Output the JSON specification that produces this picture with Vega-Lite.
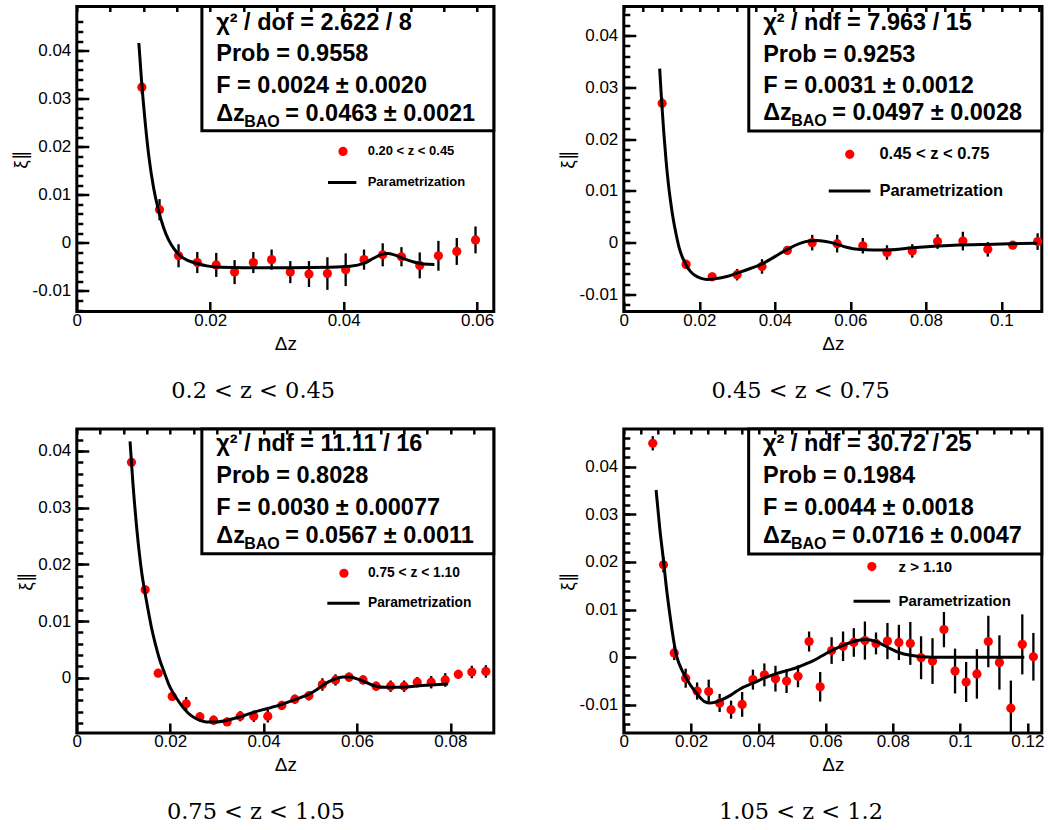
{
"$schema": "https://vega.github.io/schema/vega-lite/v6.json",
"background": "white",
"padding": {"left": 8.8, "top": 3.5, "right": 2, "bottom": 2},
"columns": 2,
"spacing": {"row": 22.5, "column": 59},
"datasets": {
"d1": [
{"x":0.00975,"y":0.0324,"err":0.0014},{"x":0.0124,"y":0.0069,"err":0.0022},{"x":0.01525,"y":-0.0027,"err":0.0024},{"x":0.01806,"y":-0.0041,"err":0.0022},{"x":0.0209,"y":-0.0046,"err":0.0025},{"x":0.02365,"y":-0.0061,"err":0.0025},{"x":0.02646,"y":-0.0041,"err":0.0022},{"x":0.0292,"y":-0.0035,"err":0.0021},{"x":0.032,"y":-0.0061,"err":0.0023},{"x":0.0348,"y":-0.0065,"err":0.0027},{"x":0.03756,"y":-0.0064,"err":0.0034},{"x":0.0403,"y":-0.0056,"err":0.0034},{"x":0.04305,"y":-0.0035,"err":0.0021},{"x":0.04585,"y":-0.0025,"err":0.0024},{"x":0.04866,"y":-0.0029,"err":0.002},{"x":0.0514,"y":-0.0047,"err":0.0027},{"x":0.0542,"y":-0.0027,"err":0.0031},{"x":0.05695,"y":-0.0018,"err":0.0028},{"x":0.05976,"y":0.0006,"err":0.0028}],
"f1": [
{"x":0.0093,"y":0.0416},{"x":0.0097,"y":0.0338},{"x":0.0102,"y":0.0258},{"x":0.0108,"y":0.018},{"x":0.0115,"y":0.0115},{"x":0.0122,"y":0.007},{"x":0.013,"y":0.0032},{"x":0.0138,"y":0.0005},{"x":0.0146,"y":-0.0013},{"x":0.0155,"y":-0.0027},{"x":0.0167,"y":-0.0037},{"x":0.018,"y":-0.0043},{"x":0.0195,"y":-0.0048},{"x":0.0215,"y":-0.0051},{"x":0.025,"y":-0.0052},{"x":0.032,"y":-0.0052},{"x":0.038,"y":-0.0051},{"x":0.041,"y":-0.0049},{"x":0.043,"y":-0.0043},{"x":0.0445,"y":-0.0032},{"x":0.0457,"y":-0.0024},{"x":0.0466,"y":-0.0022},{"x":0.0476,"y":-0.0025},{"x":0.049,"y":-0.0033},{"x":0.0505,"y":-0.004},{"x":0.052,"y":-0.0044},{"x":0.0536,"y":-0.0045}],
"d2": [
{"x":0.01015,"y":0.0269,"err":0.0011},{"x":0.0165,"y":-0.0042,"err":0.0009},{"x":0.0234,"y":-0.0066,"err":0.0008},{"x":0.03,"y":-0.0062,"err":0.0011},{"x":0.0366,"y":-0.0046,"err":0.0014},{"x":0.0433,"y":-0.0015,"err":0.0008},{"x":0.0499,"y":0.0,"err":0.0015},{"x":0.0565,"y":-0.0002,"err":0.0017},{"x":0.0633,"y":-0.0006,"err":0.0015},{"x":0.0697,"y":-0.0019,"err":0.0014},{"x":0.0764,"y":-0.0016,"err":0.0013},{"x":0.0831,"y":0.0002,"err":0.0014},{"x":0.0898,"y":0.0003,"err":0.0018},{"x":0.0964,"y":-0.0013,"err":0.0014},{"x":0.103,"y":-0.0005,"err":0.0006},{"x":0.1096,"y":0.0002,"err":0.0016}],
"f2": [
{"x":0.0095,"y":0.0336},{"x":0.01,"y":0.0275},{"x":0.0106,"y":0.0212},{"x":0.0112,"y":0.0158},{"x":0.0118,"y":0.0114},{"x":0.0124,"y":0.0079},{"x":0.0131,"y":0.0045},{"x":0.0138,"y":0.0018},{"x":0.0146,"y":-0.0008},{"x":0.0155,"y":-0.0028},{"x":0.0165,"y":-0.0043},{"x":0.0177,"y":-0.0056},{"x":0.019,"y":-0.0064},{"x":0.0205,"y":-0.0069},{"x":0.022,"y":-0.0071},{"x":0.024,"y":-0.007},{"x":0.027,"y":-0.0066},{"x":0.03,"y":-0.0059},{"x":0.0335,"y":-0.005},{"x":0.0366,"y":-0.0041},{"x":0.04,"y":-0.0027},{"x":0.0433,"y":-0.0013},{"x":0.0465,"y":-0.0002},{"x":0.049,"y":0.0003},{"x":0.051,"y":0.0004},{"x":0.0535,"y":0.0002},{"x":0.056,"y":-0.0002},{"x":0.059,"y":-0.0009},{"x":0.062,"y":-0.0013},{"x":0.066,"y":-0.0014},{"x":0.07,"y":-0.0014},{"x":0.0764,"y":-0.001},{"x":0.0874,"y":-0.0005},{"x":0.098,"y":-0.0003},{"x":0.1095,"y":-0.0001}],
"d3": [
{"x":0.01171,"y":0.038,"err":0.0008},{"x":0.01464,"y":0.0155,"err":0.0007},{"x":0.01743,"y":0.0008,"err":0.0007},{"x":0.02043,"y":-0.0033,"err":0.0008},{"x":0.02343,"y":-0.0046,"err":0.0012},{"x":0.02636,"y":-0.0069,"err":0.0008},{"x":0.02929,"y":-0.0075,"err":0.0008},{"x":0.0322,"y":-0.0078,"err":0.0007},{"x":0.035,"y":-0.0068,"err":0.0009},{"x":0.0379,"y":-0.0068,"err":0.001},{"x":0.0409,"y":-0.0068,"err":0.0011},{"x":0.0439,"y":-0.0049,"err":0.0008},{"x":0.0467,"y":-0.0038,"err":0.0008},{"x":0.0497,"y":-0.0032,"err":0.0008},{"x":0.0526,"y":-0.0012,"err":0.0011},{"x":0.0554,"y":-0.0004,"err":0.001},{"x":0.0583,"y":0.0001,"err":0.0008},{"x":0.0613,"y":-0.0004,"err":0.0008},{"x":0.0641,"y":-0.0015,"err":0.0008},{"x":0.0672,"y":-0.0015,"err":0.001},{"x":0.0701,"y":-0.0015,"err":0.001},{"x":0.0729,"y":-0.0008,"err":0.0009},{"x":0.0759,"y":-0.0008,"err":0.0011},{"x":0.0789,"y":-0.0004,"err":0.0012},{"x":0.0817,"y":0.0006,"err":0.0008},{"x":0.0846,"y":0.001,"err":0.0011},{"x":0.0876,"y":0.0011,"err":0.0011}],
"f3": [
{"x":0.0114,"y":0.0417},{"x":0.012,"y":0.0345},{"x":0.0127,"y":0.0276},{"x":0.0134,"y":0.0219},{"x":0.014,"y":0.018},{"x":0.0146,"y":0.015},{"x":0.0153,"y":0.0118},{"x":0.016,"y":0.0088},{"x":0.0168,"y":0.006},{"x":0.0177,"y":0.0033},{"x":0.0188,"y":0.0008},{"x":0.0196,"y":-0.001},{"x":0.0205,"y":-0.0025},{"x":0.0215,"y":-0.0038},{"x":0.023,"y":-0.0055},{"x":0.0245,"y":-0.0067},{"x":0.026,"y":-0.0074},{"x":0.0277,"y":-0.0078},{"x":0.03,"y":-0.0078},{"x":0.0322,"y":-0.0075},{"x":0.035,"y":-0.0069},{"x":0.0379,"y":-0.0061},{"x":0.041,"y":-0.0054},{"x":0.0439,"y":-0.0047},{"x":0.047,"y":-0.0038},{"x":0.0497,"y":-0.0029},{"x":0.0512,"y":-0.0022},{"x":0.0526,"y":-0.0014},{"x":0.054,"y":-0.0007},{"x":0.0554,"y":-0.0002},{"x":0.057,"y":0.0001},{"x":0.0584,"y":0.0001},{"x":0.06,"y":-0.0002},{"x":0.0613,"y":-0.0006},{"x":0.0627,"y":-0.0011},{"x":0.0641,"y":-0.0015},{"x":0.066,"y":-0.0017},{"x":0.0691,"y":-0.0017},{"x":0.074,"y":-0.0014},{"x":0.0795,"y":-0.0011}],
"d4": [
{"x":0.00861,"y":0.0449,"err":0.0015},{"x":0.0118,"y":0.0194,"err":0.0016},{"x":0.015,"y":0.0009,"err":0.0015},{"x":0.0184,"y":-0.0044,"err":0.002},{"x":0.0218,"y":-0.0071,"err":0.0018},{"x":0.02525,"y":-0.0072,"err":0.0025},{"x":0.0285,"y":-0.0096,"err":0.0019},{"x":0.0319,"y":-0.011,"err":0.0019},{"x":0.0352,"y":-0.0099,"err":0.0026},{"x":0.0384,"y":-0.0047,"err":0.0021},{"x":0.0418,"y":-0.0037,"err":0.0024},{"x":0.0451,"y":-0.0045,"err":0.0027},{"x":0.0484,"y":-0.005,"err":0.0025},{"x":0.0518,"y":-0.004,"err":0.0023},{"x":0.0551,"y":0.0033,"err":0.0021},{"x":0.0584,"y":-0.0062,"err":0.0031},{"x":0.0618,"y":0.0014,"err":0.0028},{"x":0.0652,"y":0.0023,"err":0.0031},{"x":0.0684,"y":0.0031,"err":0.003},{"x":0.0717,"y":0.0035,"err":0.004},{"x":0.075,"y":0.0029,"err":0.0023},{"x":0.0784,"y":0.0034,"err":0.0038},{"x":0.0818,"y":0.0031,"err":0.0037},{"x":0.0852,"y":0.0029,"err":0.0045},{"x":0.0884,"y":-0.0001,"err":0.0045},{"x":0.0918,"y":-0.0008,"err":0.0048},{"x":0.0952,"y":0.0058,"err":0.0037},{"x":0.0985,"y":-0.0029,"err":0.0047},{"x":0.1018,"y":-0.0052,"err":0.0042},{"x":0.105,"y":-0.0035,"err":0.0052},{"x":0.1084,"y":0.0033,"err":0.0054},{"x":0.1117,"y":-0.0011,"err":0.0057},{"x":0.1151,"y":-0.0107,"err":0.0058},{"x":0.1185,"y":0.0027,"err":0.0063},{"x":0.1218,"y":0.0001,"err":0.005}],
"f4": [
{"x":0.0096,"y":0.0351},{"x":0.0107,"y":0.027},{"x":0.0118,"y":0.0203},{"x":0.0126,"y":0.015},{"x":0.0134,"y":0.0105},{"x":0.0142,"y":0.0064},{"x":0.015,"y":0.0028},{"x":0.0158,"y":0.0},{"x":0.0166,"y":-0.0016},{"x":0.0175,"y":-0.003},{"x":0.0184,"y":-0.0042},{"x":0.0195,"y":-0.0055},{"x":0.0206,"y":-0.0066},{"x":0.0218,"y":-0.0077},{"x":0.023,"y":-0.0087},{"x":0.024,"y":-0.0093},{"x":0.0257,"y":-0.0096},{"x":0.0285,"y":-0.0091},{"x":0.0317,"y":-0.008},{"x":0.0347,"y":-0.0066},{"x":0.0386,"y":-0.0054},{"x":0.042,"y":-0.0043},{"x":0.0451,"y":-0.0035},{"x":0.0485,"y":-0.0028},{"x":0.0518,"y":-0.0021},{"x":0.0545,"y":-0.0013},{"x":0.0564,"y":-0.0007},{"x":0.059,"y":0.0003},{"x":0.0618,"y":0.0014},{"x":0.0652,"y":0.0025},{"x":0.0684,"y":0.0033},{"x":0.0717,"y":0.0037},{"x":0.075,"y":0.0033},{"x":0.0784,"y":0.0021},{"x":0.0818,"y":0.001},{"x":0.0852,"y":0.0004},{"x":0.0884,"y":0.0001},{"x":0.092,"y":0.0},{"x":0.1191,"y":0.0}]
},
"concat": [
{
"width": 417, "height": 305,
"title": {"text": "0.2 < z < 0.45", "orient": "bottom", "anchor": "middle", "frame": "bounds", "font": "DejaVu Serif", "fontSize": 22.5, "fontWeight": "normal", "color": "black", "offset": 26.5},
"layer": [
{"data": {"name": "d1"}, "mark": {"type": "errorbar", "ticks": false, "rule": {"stroke": "black", "strokeWidth": 2.3}},
 "encoding": {
  "x": {"field": "x", "type": "quantitative", "scale": {"domain": [0, 0.0625], "nice": false, "zero": false}, "axis": {"title": "Δz", "titlePadding": 6, "labelPadding": 10.5, "labelOverlap": false, "labelFlush": false, "zindex": 1, "tickSize": -10, "values": [0,0.005,0.01,0.015,0.02,0.025,0.03,0.035,0.04,0.045,0.05,0.055,0.06], "labelExpr": "abs(datum.value*50-round(datum.value*50))<1e-6 ? replace(format(datum.value,'~g'),'\u2212','-') : ''", "tickOpacity": {"condition": {"test": "abs(datum.value*50-round(datum.value*50))<1e-6", "value": 1}, "value": 0}, "grid": true, "gridDash": [5, 2000], "gridColor": "black", "gridWidth": 2.5, "gridOpacity": 1}},
  "y": {"field": "y", "type": "quantitative", "scale": {"domain": [-0.0143, 0.0492], "nice": false, "zero": false}, "axis": {"title": "ξ∥", "titlePadding": 2, "labelPadding": 18, "labelOverlap": false, "labelFlush": false, "zindex": 1, "tickSize": -12, "values": [-0.014,-0.012,-0.01,-0.008,-0.006,-0.004,-0.002,0,0.002,0.004,0.006,0.008,0.01,0.012,0.014,0.016,0.018,0.02,0.022,0.024,0.026,0.028,0.03,0.032,0.034,0.036,0.038,0.04,0.042,0.044,0.046], "labelExpr": "abs(datum.value*100-round(datum.value*100))<1e-6 ? replace(format(datum.value,'~g'),'\u2212','-') : ''", "tickOpacity": {"condition": {"test": "abs(datum.value*100-round(datum.value*100))<1e-6", "value": 1}, "value": 0}, "grid": true, "gridDash": [6, 2000], "gridColor": "black", "gridWidth": 2.5, "gridOpacity": 1}},
  "yError": {"field": "err"}}},
{"data": {"name": "d1"}, "mark": {"type": "point", "filled": true, "fill": "#ff0000", "size": 85, "opacity": 1, "strokeWidth": 0},
 "encoding": {
  "x": {"field": "x", "type": "quantitative", "scale": {"domain": [0, 0.0625], "nice": false, "zero": false}, "axis": {"title": "Δz", "titlePadding": 6, "labelPadding": 10.5, "labelOverlap": false, "labelFlush": false, "zindex": 1, "tickSize": -10, "values": [0,0.005,0.01,0.015,0.02,0.025,0.03,0.035,0.04,0.045,0.05,0.055,0.06], "labelExpr": "abs(datum.value*50-round(datum.value*50))<1e-6 ? replace(format(datum.value,'~g'),'\u2212','-') : ''", "tickOpacity": {"condition": {"test": "abs(datum.value*50-round(datum.value*50))<1e-6", "value": 1}, "value": 0}, "grid": true, "gridDash": [5, 2000], "gridColor": "black", "gridWidth": 2.5, "gridOpacity": 1}},
  "y": {"field": "y", "type": "quantitative", "scale": {"domain": [-0.0143, 0.0492], "nice": false, "zero": false}, "axis": {"title": "ξ∥", "titlePadding": 2, "labelPadding": 18, "labelOverlap": false, "labelFlush": false, "zindex": 1, "tickSize": -12, "values": [-0.014,-0.012,-0.01,-0.008,-0.006,-0.004,-0.002,0,0.002,0.004,0.006,0.008,0.01,0.012,0.014,0.016,0.018,0.02,0.022,0.024,0.026,0.028,0.03,0.032,0.034,0.036,0.038,0.04,0.042,0.044,0.046], "labelExpr": "abs(datum.value*100-round(datum.value*100))<1e-6 ? replace(format(datum.value,'~g'),'\u2212','-') : ''", "tickOpacity": {"condition": {"test": "abs(datum.value*100-round(datum.value*100))<1e-6", "value": 1}, "value": 0}, "grid": true, "gridDash": [6, 2000], "gridColor": "black", "gridWidth": 2.5, "gridOpacity": 1}}}},
{"data": {"name": "f1"}, "mark": {"type": "line", "color": "black", "strokeWidth": 3, "interpolate": "monotone"},
 "encoding": {
  "x": {"field": "x", "type": "quantitative", "scale": {"domain": [0, 0.0625], "nice": false, "zero": false}, "axis": {"title": "Δz", "titlePadding": 6, "labelPadding": 10.5, "labelOverlap": false, "labelFlush": false, "zindex": 1, "tickSize": -10, "values": [0,0.005,0.01,0.015,0.02,0.025,0.03,0.035,0.04,0.045,0.05,0.055,0.06], "labelExpr": "abs(datum.value*50-round(datum.value*50))<1e-6 ? replace(format(datum.value,'~g'),'\u2212','-') : ''", "tickOpacity": {"condition": {"test": "abs(datum.value*50-round(datum.value*50))<1e-6", "value": 1}, "value": 0}, "grid": true, "gridDash": [5, 2000], "gridColor": "black", "gridWidth": 2.5, "gridOpacity": 1}},
  "y": {"field": "y", "type": "quantitative", "scale": {"domain": [-0.0143, 0.0492], "nice": false, "zero": false}, "axis": {"title": "ξ∥", "titlePadding": 2, "labelPadding": 18, "labelOverlap": false, "labelFlush": false, "zindex": 1, "tickSize": -12, "values": [-0.014,-0.012,-0.01,-0.008,-0.006,-0.004,-0.002,0,0.002,0.004,0.006,0.008,0.01,0.012,0.014,0.016,0.018,0.02,0.022,0.024,0.026,0.028,0.03,0.032,0.034,0.036,0.038,0.04,0.042,0.044,0.046], "labelExpr": "abs(datum.value*100-round(datum.value*100))<1e-6 ? replace(format(datum.value,'~g'),'\u2212','-') : ''", "tickOpacity": {"condition": {"test": "abs(datum.value*100-round(datum.value*100))<1e-6", "value": 1}, "value": 0}, "grid": true, "gridDash": [6, 2000], "gridColor": "black", "gridWidth": 2.5, "gridOpacity": 1}}}},
{"data": {"values": [{}]}, "mark": {"type": "point", "filled": true, "fill": "#ff0000", "size": 85, "opacity": 1, "strokeWidth": 0},
 "encoding": {
  "x": {"datum": 0.0399, "type": "quantitative", "scale": {"domain": [0, 0.0625], "nice": false, "zero": false}, "axis": {"title": "Δz", "titlePadding": 6, "labelPadding": 10.5, "labelOverlap": false, "labelFlush": false, "zindex": 1, "tickSize": -10, "values": [0,0.005,0.01,0.015,0.02,0.025,0.03,0.035,0.04,0.045,0.05,0.055,0.06], "labelExpr": "abs(datum.value*50-round(datum.value*50))<1e-6 ? replace(format(datum.value,'~g'),'\u2212','-') : ''", "tickOpacity": {"condition": {"test": "abs(datum.value*50-round(datum.value*50))<1e-6", "value": 1}, "value": 0}, "grid": true, "gridDash": [5, 2000], "gridColor": "black", "gridWidth": 2.5, "gridOpacity": 1}},
  "y": {"datum": 0.01902, "type": "quantitative", "scale": {"domain": [-0.0143, 0.0492], "nice": false, "zero": false}, "axis": {"title": "ξ∥", "titlePadding": 2, "labelPadding": 18, "labelOverlap": false, "labelFlush": false, "zindex": 1, "tickSize": -12, "values": [-0.014,-0.012,-0.01,-0.008,-0.006,-0.004,-0.002,0,0.002,0.004,0.006,0.008,0.01,0.012,0.014,0.016,0.018,0.02,0.022,0.024,0.026,0.028,0.03,0.032,0.034,0.036,0.038,0.04,0.042,0.044,0.046], "labelExpr": "abs(datum.value*100-round(datum.value*100))<1e-6 ? replace(format(datum.value,'~g'),'\u2212','-') : ''", "tickOpacity": {"condition": {"test": "abs(datum.value*100-round(datum.value*100))<1e-6", "value": 1}, "value": 0}, "grid": true, "gridDash": [6, 2000], "gridColor": "black", "gridWidth": 2.5, "gridOpacity": 1}}}},
{"data": {"values": [{}]}, "mark": {"type": "text", "text": ["0.20 < z < 0.45", "Parametrization"], "lineHeight": 31, "align": "left", "baseline": "middle", "font": "Liberation Sans", "fontWeight": "bold", "fontSize": 13, "color": "black"},
 "encoding": {
  "x": {"datum": 0.0436, "type": "quantitative", "scale": {"domain": [0, 0.0625], "nice": false, "zero": false}, "axis": {"title": "Δz", "titlePadding": 6, "labelPadding": 10.5, "labelOverlap": false, "labelFlush": false, "zindex": 1, "tickSize": -10, "values": [0,0.005,0.01,0.015,0.02,0.025,0.03,0.035,0.04,0.045,0.05,0.055,0.06], "labelExpr": "abs(datum.value*50-round(datum.value*50))<1e-6 ? replace(format(datum.value,'~g'),'\u2212','-') : ''", "tickOpacity": {"condition": {"test": "abs(datum.value*50-round(datum.value*50))<1e-6", "value": 1}, "value": 0}, "grid": true, "gridDash": [5, 2000], "gridColor": "black", "gridWidth": 2.5, "gridOpacity": 1}},
  "y": {"datum": 0.01902, "type": "quantitative", "scale": {"domain": [-0.0143, 0.0492], "nice": false, "zero": false}, "axis": {"title": "ξ∥", "titlePadding": 2, "labelPadding": 18, "labelOverlap": false, "labelFlush": false, "zindex": 1, "tickSize": -12, "values": [-0.014,-0.012,-0.01,-0.008,-0.006,-0.004,-0.002,0,0.002,0.004,0.006,0.008,0.01,0.012,0.014,0.016,0.018,0.02,0.022,0.024,0.026,0.028,0.03,0.032,0.034,0.036,0.038,0.04,0.042,0.044,0.046], "labelExpr": "abs(datum.value*100-round(datum.value*100))<1e-6 ? replace(format(datum.value,'~g'),'\u2212','-') : ''", "tickOpacity": {"condition": {"test": "abs(datum.value*100-round(datum.value*100))<1e-6", "value": 1}, "value": 0}, "grid": true, "gridDash": [6, 2000], "gridColor": "black", "gridWidth": 2.5, "gridOpacity": 1}}}},
{"data": {"values": [{}]}, "mark": {"type": "rule", "color": "black", "strokeWidth": 3},
 "encoding": {
  "x": {"datum": 0.03765, "type": "quantitative", "scale": {"domain": [0, 0.0625], "nice": false, "zero": false}, "axis": {"title": "Δz", "titlePadding": 6, "labelPadding": 10.5, "labelOverlap": false, "labelFlush": false, "zindex": 1, "tickSize": -10, "values": [0,0.005,0.01,0.015,0.02,0.025,0.03,0.035,0.04,0.045,0.05,0.055,0.06], "labelExpr": "abs(datum.value*50-round(datum.value*50))<1e-6 ? replace(format(datum.value,'~g'),'\u2212','-') : ''", "tickOpacity": {"condition": {"test": "abs(datum.value*50-round(datum.value*50))<1e-6", "value": 1}, "value": 0}, "grid": true, "gridDash": [5, 2000], "gridColor": "black", "gridWidth": 2.5, "gridOpacity": 1}},
  "x2": {"datum": 0.0419},
  "y": {"datum": 0.01256, "type": "quantitative", "scale": {"domain": [-0.0143, 0.0492], "nice": false, "zero": false}, "axis": {"title": "ξ∥", "titlePadding": 2, "labelPadding": 18, "labelOverlap": false, "labelFlush": false, "zindex": 1, "tickSize": -12, "values": [-0.014,-0.012,-0.01,-0.008,-0.006,-0.004,-0.002,0,0.002,0.004,0.006,0.008,0.01,0.012,0.014,0.016,0.018,0.02,0.022,0.024,0.026,0.028,0.03,0.032,0.034,0.036,0.038,0.04,0.042,0.044,0.046], "labelExpr": "abs(datum.value*100-round(datum.value*100))<1e-6 ? replace(format(datum.value,'~g'),'\u2212','-') : ''", "tickOpacity": {"condition": {"test": "abs(datum.value*100-round(datum.value*100))<1e-6", "value": 1}, "value": 0}, "grid": true, "gridDash": [6, 2000], "gridColor": "black", "gridWidth": 2.5, "gridOpacity": 1}}}},
{"data": {"values": [{}]}, "mark": {"type": "rect", "fill": "white", "stroke": "black", "strokeWidth": 3},
 "encoding": {
  "x": {"datum": 0.01875, "type": "quantitative", "scale": {"domain": [0, 0.0625], "nice": false, "zero": false}, "axis": {"title": "Δz", "titlePadding": 6, "labelPadding": 10.5, "labelOverlap": false, "labelFlush": false, "zindex": 1, "tickSize": -10, "values": [0,0.005,0.01,0.015,0.02,0.025,0.03,0.035,0.04,0.045,0.05,0.055,0.06], "labelExpr": "abs(datum.value*50-round(datum.value*50))<1e-6 ? replace(format(datum.value,'~g'),'\u2212','-') : ''", "tickOpacity": {"condition": {"test": "abs(datum.value*50-round(datum.value*50))<1e-6", "value": 1}, "value": 0}, "grid": true, "gridDash": [5, 2000], "gridColor": "black", "gridWidth": 2.5, "gridOpacity": 1}},
  "x2": {"datum": 0.0625},
  "y": {"datum": 0.0492, "type": "quantitative", "scale": {"domain": [-0.0143, 0.0492], "nice": false, "zero": false}, "axis": {"title": "ξ∥", "titlePadding": 2, "labelPadding": 18, "labelOverlap": false, "labelFlush": false, "zindex": 1, "tickSize": -12, "values": [-0.014,-0.012,-0.01,-0.008,-0.006,-0.004,-0.002,0,0.002,0.004,0.006,0.008,0.01,0.012,0.014,0.016,0.018,0.02,0.022,0.024,0.026,0.028,0.03,0.032,0.034,0.036,0.038,0.04,0.042,0.044,0.046], "labelExpr": "abs(datum.value*100-round(datum.value*100))<1e-6 ? replace(format(datum.value,'~g'),'\u2212','-') : ''", "tickOpacity": {"condition": {"test": "abs(datum.value*100-round(datum.value*100))<1e-6", "value": 1}, "value": 0}, "grid": true, "gridDash": [6, 2000], "gridColor": "black", "gridWidth": 2.5, "gridOpacity": 1}},
  "y2": {"datum": 0.02333}}},
{"data": {"values": [{}]}, "mark": {"type": "text", "text": ["χ² / dof = 2.622 / 8", "Prob = 0.9558", "F = 0.0024 ± 0.0020"], "lineHeight": 31.7, "align": "left", "baseline": "alphabetic", "font": "Liberation Sans", "fontWeight": "bold", "fontSize": 23.5, "color": "black"},
 "encoding": {
  "x": {"datum": 0.0209, "type": "quantitative", "scale": {"domain": [0, 0.0625], "nice": false, "zero": false}, "axis": {"title": "Δz", "titlePadding": 6, "labelPadding": 10.5, "labelOverlap": false, "labelFlush": false, "zindex": 1, "tickSize": -10, "values": [0,0.005,0.01,0.015,0.02,0.025,0.03,0.035,0.04,0.045,0.05,0.055,0.06], "labelExpr": "abs(datum.value*50-round(datum.value*50))<1e-6 ? replace(format(datum.value,'~g'),'\u2212','-') : ''", "tickOpacity": {"condition": {"test": "abs(datum.value*50-round(datum.value*50))<1e-6", "value": 1}, "value": 0}, "grid": true, "gridDash": [5, 2000], "gridColor": "black", "gridWidth": 2.5, "gridOpacity": 1}},
  "y": {"datum": 0.04438, "type": "quantitative", "scale": {"domain": [-0.0143, 0.0492], "nice": false, "zero": false}, "axis": {"title": "ξ∥", "titlePadding": 2, "labelPadding": 18, "labelOverlap": false, "labelFlush": false, "zindex": 1, "tickSize": -12, "values": [-0.014,-0.012,-0.01,-0.008,-0.006,-0.004,-0.002,0,0.002,0.004,0.006,0.008,0.01,0.012,0.014,0.016,0.018,0.02,0.022,0.024,0.026,0.028,0.03,0.032,0.034,0.036,0.038,0.04,0.042,0.044,0.046], "labelExpr": "abs(datum.value*100-round(datum.value*100))<1e-6 ? replace(format(datum.value,'~g'),'\u2212','-') : ''", "tickOpacity": {"condition": {"test": "abs(datum.value*100-round(datum.value*100))<1e-6", "value": 1}, "value": 0}, "grid": true, "gridDash": [6, 2000], "gridColor": "black", "gridWidth": 2.5, "gridOpacity": 1}}}},
{"data": {"values": [{}]}, "mark": {"type": "text", "text": "Δz", "align": "left", "baseline": "alphabetic", "font": "Liberation Sans", "fontWeight": "bold", "fontSize": 23.5, "color": "black"},
 "encoding": {
  "x": {"datum": 0.0209, "type": "quantitative", "scale": {"domain": [0, 0.0625], "nice": false, "zero": false}, "axis": {"title": "Δz", "titlePadding": 6, "labelPadding": 10.5, "labelOverlap": false, "labelFlush": false, "zindex": 1, "tickSize": -10, "values": [0,0.005,0.01,0.015,0.02,0.025,0.03,0.035,0.04,0.045,0.05,0.055,0.06], "labelExpr": "abs(datum.value*50-round(datum.value*50))<1e-6 ? replace(format(datum.value,'~g'),'\u2212','-') : ''", "tickOpacity": {"condition": {"test": "abs(datum.value*50-round(datum.value*50))<1e-6", "value": 1}, "value": 0}, "grid": true, "gridDash": [5, 2000], "gridColor": "black", "gridWidth": 2.5, "gridOpacity": 1}},
  "y": {"datum": 0.02527, "type": "quantitative", "scale": {"domain": [-0.0143, 0.0492], "nice": false, "zero": false}, "axis": {"title": "ξ∥", "titlePadding": 2, "labelPadding": 18, "labelOverlap": false, "labelFlush": false, "zindex": 1, "tickSize": -12, "values": [-0.014,-0.012,-0.01,-0.008,-0.006,-0.004,-0.002,0,0.002,0.004,0.006,0.008,0.01,0.012,0.014,0.016,0.018,0.02,0.022,0.024,0.026,0.028,0.03,0.032,0.034,0.036,0.038,0.04,0.042,0.044,0.046], "labelExpr": "abs(datum.value*100-round(datum.value*100))<1e-6 ? replace(format(datum.value,'~g'),'\u2212','-') : ''", "tickOpacity": {"condition": {"test": "abs(datum.value*100-round(datum.value*100))<1e-6", "value": 1}, "value": 0}, "grid": true, "gridDash": [6, 2000], "gridColor": "black", "gridWidth": 2.5, "gridOpacity": 1}}}},
{"data": {"values": [{}]}, "mark": {"type": "text", "text": "BAO", "dx": 28, "dy": 6, "align": "left", "baseline": "alphabetic", "font": "Liberation Sans", "fontWeight": "bold", "fontSize": 16, "color": "black"},
 "encoding": {
  "x": {"datum": 0.0209, "type": "quantitative", "scale": {"domain": [0, 0.0625], "nice": false, "zero": false}, "axis": {"title": "Δz", "titlePadding": 6, "labelPadding": 10.5, "labelOverlap": false, "labelFlush": false, "zindex": 1, "tickSize": -10, "values": [0,0.005,0.01,0.015,0.02,0.025,0.03,0.035,0.04,0.045,0.05,0.055,0.06], "labelExpr": "abs(datum.value*50-round(datum.value*50))<1e-6 ? replace(format(datum.value,'~g'),'\u2212','-') : ''", "tickOpacity": {"condition": {"test": "abs(datum.value*50-round(datum.value*50))<1e-6", "value": 1}, "value": 0}, "grid": true, "gridDash": [5, 2000], "gridColor": "black", "gridWidth": 2.5, "gridOpacity": 1}},
  "y": {"datum": 0.02527, "type": "quantitative", "scale": {"domain": [-0.0143, 0.0492], "nice": false, "zero": false}, "axis": {"title": "ξ∥", "titlePadding": 2, "labelPadding": 18, "labelOverlap": false, "labelFlush": false, "zindex": 1, "tickSize": -12, "values": [-0.014,-0.012,-0.01,-0.008,-0.006,-0.004,-0.002,0,0.002,0.004,0.006,0.008,0.01,0.012,0.014,0.016,0.018,0.02,0.022,0.024,0.026,0.028,0.03,0.032,0.034,0.036,0.038,0.04,0.042,0.044,0.046], "labelExpr": "abs(datum.value*100-round(datum.value*100))<1e-6 ? replace(format(datum.value,'~g'),'\u2212','-') : ''", "tickOpacity": {"condition": {"test": "abs(datum.value*100-round(datum.value*100))<1e-6", "value": 1}, "value": 0}, "grid": true, "gridDash": [6, 2000], "gridColor": "black", "gridWidth": 2.5, "gridOpacity": 1}}}},
{"data": {"values": [{}]}, "mark": {"type": "text", "text": "= 0.0463 ± 0.0021", "dx": 69, "align": "left", "baseline": "alphabetic", "font": "Liberation Sans", "fontWeight": "bold", "fontSize": 23.5, "color": "black"},
 "encoding": {
  "x": {"datum": 0.0209, "type": "quantitative", "scale": {"domain": [0, 0.0625], "nice": false, "zero": false}, "axis": {"title": "Δz", "titlePadding": 6, "labelPadding": 10.5, "labelOverlap": false, "labelFlush": false, "zindex": 1, "tickSize": -10, "values": [0,0.005,0.01,0.015,0.02,0.025,0.03,0.035,0.04,0.045,0.05,0.055,0.06], "labelExpr": "abs(datum.value*50-round(datum.value*50))<1e-6 ? replace(format(datum.value,'~g'),'\u2212','-') : ''", "tickOpacity": {"condition": {"test": "abs(datum.value*50-round(datum.value*50))<1e-6", "value": 1}, "value": 0}, "grid": true, "gridDash": [5, 2000], "gridColor": "black", "gridWidth": 2.5, "gridOpacity": 1}},
  "y": {"datum": 0.02527, "type": "quantitative", "scale": {"domain": [-0.0143, 0.0492], "nice": false, "zero": false}, "axis": {"title": "ξ∥", "titlePadding": 2, "labelPadding": 18, "labelOverlap": false, "labelFlush": false, "zindex": 1, "tickSize": -12, "values": [-0.014,-0.012,-0.01,-0.008,-0.006,-0.004,-0.002,0,0.002,0.004,0.006,0.008,0.01,0.012,0.014,0.016,0.018,0.02,0.022,0.024,0.026,0.028,0.03,0.032,0.034,0.036,0.038,0.04,0.042,0.044,0.046], "labelExpr": "abs(datum.value*100-round(datum.value*100))<1e-6 ? replace(format(datum.value,'~g'),'\u2212','-') : ''", "tickOpacity": {"condition": {"test": "abs(datum.value*100-round(datum.value*100))<1e-6", "value": 1}, "value": 0}, "grid": true, "gridDash": [6, 2000], "gridColor": "black", "gridWidth": 2.5, "gridOpacity": 1}}}}
]
},
{
"width": 418, "height": 305,
"title": {"text": "0.45 < z < 0.75", "orient": "bottom", "anchor": "middle", "frame": "bounds", "font": "DejaVu Serif", "fontSize": 22.5, "fontWeight": "normal", "color": "black", "offset": 26.5},
"layer": [
{"data": {"name": "d2"}, "mark": {"type": "errorbar", "ticks": false, "rule": {"stroke": "black", "strokeWidth": 2.3}},
 "encoding": {
  "x": {"field": "x", "type": "quantitative", "scale": {"domain": [0, 0.1107], "nice": false, "zero": false}, "axis": {"title": "Δz", "titlePadding": 6, "labelPadding": 10.5, "labelOverlap": false, "labelFlush": false, "zindex": 1, "tickSize": -10, "values": [0,0.005,0.01,0.015,0.02,0.025,0.03,0.035,0.04,0.045,0.05,0.055,0.06,0.065,0.07,0.075,0.08,0.085,0.09,0.095,0.1,0.105,0.11], "labelExpr": "abs(datum.value*50-round(datum.value*50))<1e-6 ? replace(format(datum.value,'~g'),'\u2212','-') : ''", "tickOpacity": {"condition": {"test": "abs(datum.value*50-round(datum.value*50))<1e-6", "value": 1}, "value": 0}, "grid": true, "gridDash": [5, 2000], "gridColor": "black", "gridWidth": 2.5, "gridOpacity": 1}},
  "y": {"field": "y", "type": "quantitative", "scale": {"domain": [-0.0133, 0.0456], "nice": false, "zero": false}, "axis": {"title": "ξ∥", "titlePadding": 2, "labelPadding": 18, "labelOverlap": false, "labelFlush": false, "zindex": 1, "tickSize": -12, "values": [-0.012,-0.01,-0.008,-0.006,-0.004,-0.002,0,0.002,0.004,0.006,0.008,0.01,0.012,0.014,0.016,0.018,0.02,0.022,0.024,0.026,0.028,0.03,0.032,0.034,0.036,0.038,0.04,0.042,0.044], "labelExpr": "abs(datum.value*100-round(datum.value*100))<1e-6 ? replace(format(datum.value,'~g'),'\u2212','-') : ''", "tickOpacity": {"condition": {"test": "abs(datum.value*100-round(datum.value*100))<1e-6", "value": 1}, "value": 0}, "grid": true, "gridDash": [6, 2000], "gridColor": "black", "gridWidth": 2.5, "gridOpacity": 1}},
  "yError": {"field": "err"}}},
{"data": {"name": "d2"}, "mark": {"type": "point", "filled": true, "fill": "#ff0000", "size": 85, "opacity": 1, "strokeWidth": 0},
 "encoding": {
  "x": {"field": "x", "type": "quantitative", "scale": {"domain": [0, 0.1107], "nice": false, "zero": false}, "axis": {"title": "Δz", "titlePadding": 6, "labelPadding": 10.5, "labelOverlap": false, "labelFlush": false, "zindex": 1, "tickSize": -10, "values": [0,0.005,0.01,0.015,0.02,0.025,0.03,0.035,0.04,0.045,0.05,0.055,0.06,0.065,0.07,0.075,0.08,0.085,0.09,0.095,0.1,0.105,0.11], "labelExpr": "abs(datum.value*50-round(datum.value*50))<1e-6 ? replace(format(datum.value,'~g'),'\u2212','-') : ''", "tickOpacity": {"condition": {"test": "abs(datum.value*50-round(datum.value*50))<1e-6", "value": 1}, "value": 0}, "grid": true, "gridDash": [5, 2000], "gridColor": "black", "gridWidth": 2.5, "gridOpacity": 1}},
  "y": {"field": "y", "type": "quantitative", "scale": {"domain": [-0.0133, 0.0456], "nice": false, "zero": false}, "axis": {"title": "ξ∥", "titlePadding": 2, "labelPadding": 18, "labelOverlap": false, "labelFlush": false, "zindex": 1, "tickSize": -12, "values": [-0.012,-0.01,-0.008,-0.006,-0.004,-0.002,0,0.002,0.004,0.006,0.008,0.01,0.012,0.014,0.016,0.018,0.02,0.022,0.024,0.026,0.028,0.03,0.032,0.034,0.036,0.038,0.04,0.042,0.044], "labelExpr": "abs(datum.value*100-round(datum.value*100))<1e-6 ? replace(format(datum.value,'~g'),'\u2212','-') : ''", "tickOpacity": {"condition": {"test": "abs(datum.value*100-round(datum.value*100))<1e-6", "value": 1}, "value": 0}, "grid": true, "gridDash": [6, 2000], "gridColor": "black", "gridWidth": 2.5, "gridOpacity": 1}}}},
{"data": {"name": "f2"}, "mark": {"type": "line", "color": "black", "strokeWidth": 3, "interpolate": "monotone"},
 "encoding": {
  "x": {"field": "x", "type": "quantitative", "scale": {"domain": [0, 0.1107], "nice": false, "zero": false}, "axis": {"title": "Δz", "titlePadding": 6, "labelPadding": 10.5, "labelOverlap": false, "labelFlush": false, "zindex": 1, "tickSize": -10, "values": [0,0.005,0.01,0.015,0.02,0.025,0.03,0.035,0.04,0.045,0.05,0.055,0.06,0.065,0.07,0.075,0.08,0.085,0.09,0.095,0.1,0.105,0.11], "labelExpr": "abs(datum.value*50-round(datum.value*50))<1e-6 ? replace(format(datum.value,'~g'),'\u2212','-') : ''", "tickOpacity": {"condition": {"test": "abs(datum.value*50-round(datum.value*50))<1e-6", "value": 1}, "value": 0}, "grid": true, "gridDash": [5, 2000], "gridColor": "black", "gridWidth": 2.5, "gridOpacity": 1}},
  "y": {"field": "y", "type": "quantitative", "scale": {"domain": [-0.0133, 0.0456], "nice": false, "zero": false}, "axis": {"title": "ξ∥", "titlePadding": 2, "labelPadding": 18, "labelOverlap": false, "labelFlush": false, "zindex": 1, "tickSize": -12, "values": [-0.012,-0.01,-0.008,-0.006,-0.004,-0.002,0,0.002,0.004,0.006,0.008,0.01,0.012,0.014,0.016,0.018,0.02,0.022,0.024,0.026,0.028,0.03,0.032,0.034,0.036,0.038,0.04,0.042,0.044], "labelExpr": "abs(datum.value*100-round(datum.value*100))<1e-6 ? replace(format(datum.value,'~g'),'\u2212','-') : ''", "tickOpacity": {"condition": {"test": "abs(datum.value*100-round(datum.value*100))<1e-6", "value": 1}, "value": 0}, "grid": true, "gridDash": [6, 2000], "gridColor": "black", "gridWidth": 2.5, "gridOpacity": 1}}}},
{"data": {"values": [{}]}, "mark": {"type": "point", "filled": true, "fill": "#ff0000", "size": 85, "opacity": 1, "strokeWidth": 0},
 "encoding": {
  "x": {"datum": 0.05984, "type": "quantitative", "scale": {"domain": [0, 0.1107], "nice": false, "zero": false}, "axis": {"title": "Δz", "titlePadding": 6, "labelPadding": 10.5, "labelOverlap": false, "labelFlush": false, "zindex": 1, "tickSize": -10, "values": [0,0.005,0.01,0.015,0.02,0.025,0.03,0.035,0.04,0.045,0.05,0.055,0.06,0.065,0.07,0.075,0.08,0.085,0.09,0.095,0.1,0.105,0.11], "labelExpr": "abs(datum.value*50-round(datum.value*50))<1e-6 ? replace(format(datum.value,'~g'),'\u2212','-') : ''", "tickOpacity": {"condition": {"test": "abs(datum.value*50-round(datum.value*50))<1e-6", "value": 1}, "value": 0}, "grid": true, "gridDash": [5, 2000], "gridColor": "black", "gridWidth": 2.5, "gridOpacity": 1}},
  "y": {"datum": 0.01706, "type": "quantitative", "scale": {"domain": [-0.0133, 0.0456], "nice": false, "zero": false}, "axis": {"title": "ξ∥", "titlePadding": 2, "labelPadding": 18, "labelOverlap": false, "labelFlush": false, "zindex": 1, "tickSize": -12, "values": [-0.012,-0.01,-0.008,-0.006,-0.004,-0.002,0,0.002,0.004,0.006,0.008,0.01,0.012,0.014,0.016,0.018,0.02,0.022,0.024,0.026,0.028,0.03,0.032,0.034,0.036,0.038,0.04,0.042,0.044], "labelExpr": "abs(datum.value*100-round(datum.value*100))<1e-6 ? replace(format(datum.value,'~g'),'\u2212','-') : ''", "tickOpacity": {"condition": {"test": "abs(datum.value*100-round(datum.value*100))<1e-6", "value": 1}, "value": 0}, "grid": true, "gridDash": [6, 2000], "gridColor": "black", "gridWidth": 2.5, "gridOpacity": 1}}}},
{"data": {"values": [{}]}, "mark": {"type": "text", "text": ["0.45 < z < 0.75", "Parametrization"], "lineHeight": 36.7, "align": "left", "baseline": "middle", "font": "Liberation Sans", "fontWeight": "bold", "fontSize": 16.5, "color": "black"},
 "encoding": {
  "x": {"datum": 0.0677, "type": "quantitative", "scale": {"domain": [0, 0.1107], "nice": false, "zero": false}, "axis": {"title": "Δz", "titlePadding": 6, "labelPadding": 10.5, "labelOverlap": false, "labelFlush": false, "zindex": 1, "tickSize": -10, "values": [0,0.005,0.01,0.015,0.02,0.025,0.03,0.035,0.04,0.045,0.05,0.055,0.06,0.065,0.07,0.075,0.08,0.085,0.09,0.095,0.1,0.105,0.11], "labelExpr": "abs(datum.value*50-round(datum.value*50))<1e-6 ? replace(format(datum.value,'~g'),'\u2212','-') : ''", "tickOpacity": {"condition": {"test": "abs(datum.value*50-round(datum.value*50))<1e-6", "value": 1}, "value": 0}, "grid": true, "gridDash": [5, 2000], "gridColor": "black", "gridWidth": 2.5, "gridOpacity": 1}},
  "y": {"datum": 0.01706, "type": "quantitative", "scale": {"domain": [-0.0133, 0.0456], "nice": false, "zero": false}, "axis": {"title": "ξ∥", "titlePadding": 2, "labelPadding": 18, "labelOverlap": false, "labelFlush": false, "zindex": 1, "tickSize": -12, "values": [-0.012,-0.01,-0.008,-0.006,-0.004,-0.002,0,0.002,0.004,0.006,0.008,0.01,0.012,0.014,0.016,0.018,0.02,0.022,0.024,0.026,0.028,0.03,0.032,0.034,0.036,0.038,0.04,0.042,0.044], "labelExpr": "abs(datum.value*100-round(datum.value*100))<1e-6 ? replace(format(datum.value,'~g'),'\u2212','-') : ''", "tickOpacity": {"condition": {"test": "abs(datum.value*100-round(datum.value*100))<1e-6", "value": 1}, "value": 0}, "grid": true, "gridDash": [6, 2000], "gridColor": "black", "gridWidth": 2.5, "gridOpacity": 1}}}},
{"data": {"values": [{}]}, "mark": {"type": "rule", "color": "black", "strokeWidth": 3},
 "encoding": {
  "x": {"datum": 0.05428, "type": "quantitative", "scale": {"domain": [0, 0.1107], "nice": false, "zero": false}, "axis": {"title": "Δz", "titlePadding": 6, "labelPadding": 10.5, "labelOverlap": false, "labelFlush": false, "zindex": 1, "tickSize": -10, "values": [0,0.005,0.01,0.015,0.02,0.025,0.03,0.035,0.04,0.045,0.05,0.055,0.06,0.065,0.07,0.075,0.08,0.085,0.09,0.095,0.1,0.105,0.11], "labelExpr": "abs(datum.value*50-round(datum.value*50))<1e-6 ? replace(format(datum.value,'~g'),'\u2212','-') : ''", "tickOpacity": {"condition": {"test": "abs(datum.value*50-round(datum.value*50))<1e-6", "value": 1}, "value": 0}, "grid": true, "gridDash": [5, 2000], "gridColor": "black", "gridWidth": 2.5, "gridOpacity": 1}},
  "x2": {"datum": 0.06532},
  "y": {"datum": 0.00997, "type": "quantitative", "scale": {"domain": [-0.0133, 0.0456], "nice": false, "zero": false}, "axis": {"title": "ξ∥", "titlePadding": 2, "labelPadding": 18, "labelOverlap": false, "labelFlush": false, "zindex": 1, "tickSize": -12, "values": [-0.012,-0.01,-0.008,-0.006,-0.004,-0.002,0,0.002,0.004,0.006,0.008,0.01,0.012,0.014,0.016,0.018,0.02,0.022,0.024,0.026,0.028,0.03,0.032,0.034,0.036,0.038,0.04,0.042,0.044], "labelExpr": "abs(datum.value*100-round(datum.value*100))<1e-6 ? replace(format(datum.value,'~g'),'\u2212','-') : ''", "tickOpacity": {"condition": {"test": "abs(datum.value*100-round(datum.value*100))<1e-6", "value": 1}, "value": 0}, "grid": true, "gridDash": [6, 2000], "gridColor": "black", "gridWidth": 2.5, "gridOpacity": 1}}}},
{"data": {"values": [{}]}, "mark": {"type": "rect", "fill": "white", "stroke": "black", "strokeWidth": 3},
 "encoding": {
  "x": {"datum": 0.0331, "type": "quantitative", "scale": {"domain": [0, 0.1107], "nice": false, "zero": false}, "axis": {"title": "Δz", "titlePadding": 6, "labelPadding": 10.5, "labelOverlap": false, "labelFlush": false, "zindex": 1, "tickSize": -10, "values": [0,0.005,0.01,0.015,0.02,0.025,0.03,0.035,0.04,0.045,0.05,0.055,0.06,0.065,0.07,0.075,0.08,0.085,0.09,0.095,0.1,0.105,0.11], "labelExpr": "abs(datum.value*50-round(datum.value*50))<1e-6 ? replace(format(datum.value,'~g'),'\u2212','-') : ''", "tickOpacity": {"condition": {"test": "abs(datum.value*50-round(datum.value*50))<1e-6", "value": 1}, "value": 0}, "grid": true, "gridDash": [5, 2000], "gridColor": "black", "gridWidth": 2.5, "gridOpacity": 1}},
  "x2": {"datum": 0.1107},
  "y": {"datum": 0.0456, "type": "quantitative", "scale": {"domain": [-0.0133, 0.0456], "nice": false, "zero": false}, "axis": {"title": "ξ∥", "titlePadding": 2, "labelPadding": 18, "labelOverlap": false, "labelFlush": false, "zindex": 1, "tickSize": -12, "values": [-0.012,-0.01,-0.008,-0.006,-0.004,-0.002,0,0.002,0.004,0.006,0.008,0.01,0.012,0.014,0.016,0.018,0.02,0.022,0.024,0.026,0.028,0.03,0.032,0.034,0.036,0.038,0.04,0.042,0.044], "labelExpr": "abs(datum.value*100-round(datum.value*100))<1e-6 ? replace(format(datum.value,'~g'),'\u2212','-') : ''", "tickOpacity": {"condition": {"test": "abs(datum.value*100-round(datum.value*100))<1e-6", "value": 1}, "value": 0}, "grid": true, "gridDash": [6, 2000], "gridColor": "black", "gridWidth": 2.5, "gridOpacity": 1}},
  "y2": {"datum": 0.02155}}},
{"data": {"values": [{}]}, "mark": {"type": "text", "text": ["χ² / ndf = 7.963 / 15", "Prob = 0.9253", "F = 0.0031 ± 0.0012"], "lineHeight": 31.4, "align": "left", "baseline": "alphabetic", "font": "Liberation Sans", "fontWeight": "bold", "fontSize": 23.5, "color": "black"},
 "encoding": {
  "x": {"datum": 0.03691, "type": "quantitative", "scale": {"domain": [0, 0.1107], "nice": false, "zero": false}, "axis": {"title": "Δz", "titlePadding": 6, "labelPadding": 10.5, "labelOverlap": false, "labelFlush": false, "zindex": 1, "tickSize": -10, "values": [0,0.005,0.01,0.015,0.02,0.025,0.03,0.035,0.04,0.045,0.05,0.055,0.06,0.065,0.07,0.075,0.08,0.085,0.09,0.095,0.1,0.105,0.11], "labelExpr": "abs(datum.value*50-round(datum.value*50))<1e-6 ? replace(format(datum.value,'~g'),'\u2212','-') : ''", "tickOpacity": {"condition": {"test": "abs(datum.value*50-round(datum.value*50))<1e-6", "value": 1}, "value": 0}, "grid": true, "gridDash": [5, 2000], "gridColor": "black", "gridWidth": 2.5, "gridOpacity": 1}},
  "y": {"datum": 0.04098, "type": "quantitative", "scale": {"domain": [-0.0133, 0.0456], "nice": false, "zero": false}, "axis": {"title": "ξ∥", "titlePadding": 2, "labelPadding": 18, "labelOverlap": false, "labelFlush": false, "zindex": 1, "tickSize": -12, "values": [-0.012,-0.01,-0.008,-0.006,-0.004,-0.002,0,0.002,0.004,0.006,0.008,0.01,0.012,0.014,0.016,0.018,0.02,0.022,0.024,0.026,0.028,0.03,0.032,0.034,0.036,0.038,0.04,0.042,0.044], "labelExpr": "abs(datum.value*100-round(datum.value*100))<1e-6 ? replace(format(datum.value,'~g'),'\u2212','-') : ''", "tickOpacity": {"condition": {"test": "abs(datum.value*100-round(datum.value*100))<1e-6", "value": 1}, "value": 0}, "grid": true, "gridDash": [6, 2000], "gridColor": "black", "gridWidth": 2.5, "gridOpacity": 1}}}},
{"data": {"values": [{}]}, "mark": {"type": "text", "text": "Δz", "align": "left", "baseline": "alphabetic", "font": "Liberation Sans", "fontWeight": "bold", "fontSize": 23.5, "color": "black"},
 "encoding": {
  "x": {"datum": 0.03691, "type": "quantitative", "scale": {"domain": [0, 0.1107], "nice": false, "zero": false}, "axis": {"title": "Δz", "titlePadding": 6, "labelPadding": 10.5, "labelOverlap": false, "labelFlush": false, "zindex": 1, "tickSize": -10, "values": [0,0.005,0.01,0.015,0.02,0.025,0.03,0.035,0.04,0.045,0.05,0.055,0.06,0.065,0.07,0.075,0.08,0.085,0.09,0.095,0.1,0.105,0.11], "labelExpr": "abs(datum.value*50-round(datum.value*50))<1e-6 ? replace(format(datum.value,'~g'),'\u2212','-') : ''", "tickOpacity": {"condition": {"test": "abs(datum.value*50-round(datum.value*50))<1e-6", "value": 1}, "value": 0}, "grid": true, "gridDash": [5, 2000], "gridColor": "black", "gridWidth": 2.5, "gridOpacity": 1}},
  "y": {"datum": 0.02362, "type": "quantitative", "scale": {"domain": [-0.0133, 0.0456], "nice": false, "zero": false}, "axis": {"title": "ξ∥", "titlePadding": 2, "labelPadding": 18, "labelOverlap": false, "labelFlush": false, "zindex": 1, "tickSize": -12, "values": [-0.012,-0.01,-0.008,-0.006,-0.004,-0.002,0,0.002,0.004,0.006,0.008,0.01,0.012,0.014,0.016,0.018,0.02,0.022,0.024,0.026,0.028,0.03,0.032,0.034,0.036,0.038,0.04,0.042,0.044], "labelExpr": "abs(datum.value*100-round(datum.value*100))<1e-6 ? replace(format(datum.value,'~g'),'\u2212','-') : ''", "tickOpacity": {"condition": {"test": "abs(datum.value*100-round(datum.value*100))<1e-6", "value": 1}, "value": 0}, "grid": true, "gridDash": [6, 2000], "gridColor": "black", "gridWidth": 2.5, "gridOpacity": 1}}}},
{"data": {"values": [{}]}, "mark": {"type": "text", "text": "BAO", "dx": 28, "dy": 6, "align": "left", "baseline": "alphabetic", "font": "Liberation Sans", "fontWeight": "bold", "fontSize": 16, "color": "black"},
 "encoding": {
  "x": {"datum": 0.03691, "type": "quantitative", "scale": {"domain": [0, 0.1107], "nice": false, "zero": false}, "axis": {"title": "Δz", "titlePadding": 6, "labelPadding": 10.5, "labelOverlap": false, "labelFlush": false, "zindex": 1, "tickSize": -10, "values": [0,0.005,0.01,0.015,0.02,0.025,0.03,0.035,0.04,0.045,0.05,0.055,0.06,0.065,0.07,0.075,0.08,0.085,0.09,0.095,0.1,0.105,0.11], "labelExpr": "abs(datum.value*50-round(datum.value*50))<1e-6 ? replace(format(datum.value,'~g'),'\u2212','-') : ''", "tickOpacity": {"condition": {"test": "abs(datum.value*50-round(datum.value*50))<1e-6", "value": 1}, "value": 0}, "grid": true, "gridDash": [5, 2000], "gridColor": "black", "gridWidth": 2.5, "gridOpacity": 1}},
  "y": {"datum": 0.02362, "type": "quantitative", "scale": {"domain": [-0.0133, 0.0456], "nice": false, "zero": false}, "axis": {"title": "ξ∥", "titlePadding": 2, "labelPadding": 18, "labelOverlap": false, "labelFlush": false, "zindex": 1, "tickSize": -12, "values": [-0.012,-0.01,-0.008,-0.006,-0.004,-0.002,0,0.002,0.004,0.006,0.008,0.01,0.012,0.014,0.016,0.018,0.02,0.022,0.024,0.026,0.028,0.03,0.032,0.034,0.036,0.038,0.04,0.042,0.044], "labelExpr": "abs(datum.value*100-round(datum.value*100))<1e-6 ? replace(format(datum.value,'~g'),'\u2212','-') : ''", "tickOpacity": {"condition": {"test": "abs(datum.value*100-round(datum.value*100))<1e-6", "value": 1}, "value": 0}, "grid": true, "gridDash": [6, 2000], "gridColor": "black", "gridWidth": 2.5, "gridOpacity": 1}}}},
{"data": {"values": [{}]}, "mark": {"type": "text", "text": "= 0.0497 ± 0.0028", "dx": 69, "align": "left", "baseline": "alphabetic", "font": "Liberation Sans", "fontWeight": "bold", "fontSize": 23.5, "color": "black"},
 "encoding": {
  "x": {"datum": 0.03691, "type": "quantitative", "scale": {"domain": [0, 0.1107], "nice": false, "zero": false}, "axis": {"title": "Δz", "titlePadding": 6, "labelPadding": 10.5, "labelOverlap": false, "labelFlush": false, "zindex": 1, "tickSize": -10, "values": [0,0.005,0.01,0.015,0.02,0.025,0.03,0.035,0.04,0.045,0.05,0.055,0.06,0.065,0.07,0.075,0.08,0.085,0.09,0.095,0.1,0.105,0.11], "labelExpr": "abs(datum.value*50-round(datum.value*50))<1e-6 ? replace(format(datum.value,'~g'),'\u2212','-') : ''", "tickOpacity": {"condition": {"test": "abs(datum.value*50-round(datum.value*50))<1e-6", "value": 1}, "value": 0}, "grid": true, "gridDash": [5, 2000], "gridColor": "black", "gridWidth": 2.5, "gridOpacity": 1}},
  "y": {"datum": 0.02362, "type": "quantitative", "scale": {"domain": [-0.0133, 0.0456], "nice": false, "zero": false}, "axis": {"title": "ξ∥", "titlePadding": 2, "labelPadding": 18, "labelOverlap": false, "labelFlush": false, "zindex": 1, "tickSize": -12, "values": [-0.012,-0.01,-0.008,-0.006,-0.004,-0.002,0,0.002,0.004,0.006,0.008,0.01,0.012,0.014,0.016,0.018,0.02,0.022,0.024,0.026,0.028,0.03,0.032,0.034,0.036,0.038,0.04,0.042,0.044], "labelExpr": "abs(datum.value*100-round(datum.value*100))<1e-6 ? replace(format(datum.value,'~g'),'\u2212','-') : ''", "tickOpacity": {"condition": {"test": "abs(datum.value*100-round(datum.value*100))<1e-6", "value": 1}, "value": 0}, "grid": true, "gridDash": [6, 2000], "gridColor": "black", "gridWidth": 2.5, "gridOpacity": 1}}}}
]
},
{
"width": 417, "height": 304,
"title": {"text": "0.75 < z < 1.05", "orient": "bottom", "anchor": "middle", "frame": "bounds", "font": "DejaVu Serif", "fontSize": 22.5, "fontWeight": "normal", "color": "black", "offset": 26.5},
"layer": [
{"data": {"name": "d3"}, "mark": {"type": "errorbar", "ticks": false, "rule": {"stroke": "black", "strokeWidth": 2.3}},
 "encoding": {
  "x": {"field": "x", "type": "quantitative", "scale": {"domain": [0, 0.0893], "nice": false, "zero": false}, "axis": {"title": "Δz", "titlePadding": 6, "labelPadding": 10.5, "labelOverlap": false, "labelFlush": false, "zindex": 1, "tickSize": -10, "values": [0,0.005,0.01,0.015,0.02,0.025,0.03,0.035,0.04,0.045,0.05,0.055,0.06,0.065,0.07,0.075,0.08,0.085], "labelExpr": "abs(datum.value*50-round(datum.value*50))<1e-6 ? replace(format(datum.value,'~g'),'\u2212','-') : ''", "tickOpacity": {"condition": {"test": "abs(datum.value*50-round(datum.value*50))<1e-6", "value": 1}, "value": 0}, "grid": true, "gridDash": [5, 2000], "gridColor": "black", "gridWidth": 2.5, "gridOpacity": 1}},
  "y": {"field": "y", "type": "quantitative", "scale": {"domain": [-0.00976, 0.04388], "nice": false, "zero": false}, "axis": {"title": "ξ∥", "titlePadding": 2, "labelPadding": 18, "labelOverlap": false, "labelFlush": false, "zindex": 1, "tickSize": -12, "values": [-0.008,-0.006,-0.004,-0.002,0,0.002,0.004,0.006,0.008,0.01,0.012,0.014,0.016,0.018,0.02,0.022,0.024,0.026,0.028,0.03,0.032,0.034,0.036,0.038,0.04,0.042], "labelExpr": "abs(datum.value*100-round(datum.value*100))<1e-6 ? replace(format(datum.value,'~g'),'\u2212','-') : ''", "tickOpacity": {"condition": {"test": "abs(datum.value*100-round(datum.value*100))<1e-6", "value": 1}, "value": 0}, "grid": true, "gridDash": [6, 2000], "gridColor": "black", "gridWidth": 2.5, "gridOpacity": 1}},
  "yError": {"field": "err"}}},
{"data": {"name": "d3"}, "mark": {"type": "point", "filled": true, "fill": "#ff0000", "size": 85, "opacity": 1, "strokeWidth": 0},
 "encoding": {
  "x": {"field": "x", "type": "quantitative", "scale": {"domain": [0, 0.0893], "nice": false, "zero": false}, "axis": {"title": "Δz", "titlePadding": 6, "labelPadding": 10.5, "labelOverlap": false, "labelFlush": false, "zindex": 1, "tickSize": -10, "values": [0,0.005,0.01,0.015,0.02,0.025,0.03,0.035,0.04,0.045,0.05,0.055,0.06,0.065,0.07,0.075,0.08,0.085], "labelExpr": "abs(datum.value*50-round(datum.value*50))<1e-6 ? replace(format(datum.value,'~g'),'\u2212','-') : ''", "tickOpacity": {"condition": {"test": "abs(datum.value*50-round(datum.value*50))<1e-6", "value": 1}, "value": 0}, "grid": true, "gridDash": [5, 2000], "gridColor": "black", "gridWidth": 2.5, "gridOpacity": 1}},
  "y": {"field": "y", "type": "quantitative", "scale": {"domain": [-0.00976, 0.04388], "nice": false, "zero": false}, "axis": {"title": "ξ∥", "titlePadding": 2, "labelPadding": 18, "labelOverlap": false, "labelFlush": false, "zindex": 1, "tickSize": -12, "values": [-0.008,-0.006,-0.004,-0.002,0,0.002,0.004,0.006,0.008,0.01,0.012,0.014,0.016,0.018,0.02,0.022,0.024,0.026,0.028,0.03,0.032,0.034,0.036,0.038,0.04,0.042], "labelExpr": "abs(datum.value*100-round(datum.value*100))<1e-6 ? replace(format(datum.value,'~g'),'\u2212','-') : ''", "tickOpacity": {"condition": {"test": "abs(datum.value*100-round(datum.value*100))<1e-6", "value": 1}, "value": 0}, "grid": true, "gridDash": [6, 2000], "gridColor": "black", "gridWidth": 2.5, "gridOpacity": 1}}}},
{"data": {"name": "f3"}, "mark": {"type": "line", "color": "black", "strokeWidth": 3, "interpolate": "monotone"},
 "encoding": {
  "x": {"field": "x", "type": "quantitative", "scale": {"domain": [0, 0.0893], "nice": false, "zero": false}, "axis": {"title": "Δz", "titlePadding": 6, "labelPadding": 10.5, "labelOverlap": false, "labelFlush": false, "zindex": 1, "tickSize": -10, "values": [0,0.005,0.01,0.015,0.02,0.025,0.03,0.035,0.04,0.045,0.05,0.055,0.06,0.065,0.07,0.075,0.08,0.085], "labelExpr": "abs(datum.value*50-round(datum.value*50))<1e-6 ? replace(format(datum.value,'~g'),'\u2212','-') : ''", "tickOpacity": {"condition": {"test": "abs(datum.value*50-round(datum.value*50))<1e-6", "value": 1}, "value": 0}, "grid": true, "gridDash": [5, 2000], "gridColor": "black", "gridWidth": 2.5, "gridOpacity": 1}},
  "y": {"field": "y", "type": "quantitative", "scale": {"domain": [-0.00976, 0.04388], "nice": false, "zero": false}, "axis": {"title": "ξ∥", "titlePadding": 2, "labelPadding": 18, "labelOverlap": false, "labelFlush": false, "zindex": 1, "tickSize": -12, "values": [-0.008,-0.006,-0.004,-0.002,0,0.002,0.004,0.006,0.008,0.01,0.012,0.014,0.016,0.018,0.02,0.022,0.024,0.026,0.028,0.03,0.032,0.034,0.036,0.038,0.04,0.042], "labelExpr": "abs(datum.value*100-round(datum.value*100))<1e-6 ? replace(format(datum.value,'~g'),'\u2212','-') : ''", "tickOpacity": {"condition": {"test": "abs(datum.value*100-round(datum.value*100))<1e-6", "value": 1}, "value": 0}, "grid": true, "gridDash": [6, 2000], "gridColor": "black", "gridWidth": 2.5, "gridOpacity": 1}}}},
{"data": {"values": [{}]}, "mark": {"type": "point", "filled": true, "fill": "#ff0000", "size": 85, "opacity": 1, "strokeWidth": 0},
 "encoding": {
  "x": {"datum": 0.05721, "type": "quantitative", "scale": {"domain": [0, 0.0893], "nice": false, "zero": false}, "axis": {"title": "Δz", "titlePadding": 6, "labelPadding": 10.5, "labelOverlap": false, "labelFlush": false, "zindex": 1, "tickSize": -10, "values": [0,0.005,0.01,0.015,0.02,0.025,0.03,0.035,0.04,0.045,0.05,0.055,0.06,0.065,0.07,0.075,0.08,0.085], "labelExpr": "abs(datum.value*50-round(datum.value*50))<1e-6 ? replace(format(datum.value,'~g'),'\u2212','-') : ''", "tickOpacity": {"condition": {"test": "abs(datum.value*50-round(datum.value*50))<1e-6", "value": 1}, "value": 0}, "grid": true, "gridDash": [5, 2000], "gridColor": "black", "gridWidth": 2.5, "gridOpacity": 1}},
  "y": {"datum": 0.01843, "type": "quantitative", "scale": {"domain": [-0.00976, 0.04388], "nice": false, "zero": false}, "axis": {"title": "ξ∥", "titlePadding": 2, "labelPadding": 18, "labelOverlap": false, "labelFlush": false, "zindex": 1, "tickSize": -12, "values": [-0.008,-0.006,-0.004,-0.002,0,0.002,0.004,0.006,0.008,0.01,0.012,0.014,0.016,0.018,0.02,0.022,0.024,0.026,0.028,0.03,0.032,0.034,0.036,0.038,0.04,0.042], "labelExpr": "abs(datum.value*100-round(datum.value*100))<1e-6 ? replace(format(datum.value,'~g'),'\u2212','-') : ''", "tickOpacity": {"condition": {"test": "abs(datum.value*100-round(datum.value*100))<1e-6", "value": 1}, "value": 0}, "grid": true, "gridDash": [6, 2000], "gridColor": "black", "gridWidth": 2.5, "gridOpacity": 1}}}},
{"data": {"values": [{}]}, "mark": {"type": "text", "text": ["0.75 < z < 1.10", "Parametrization"], "lineHeight": 30, "align": "left", "baseline": "middle", "font": "Liberation Sans", "fontWeight": "bold", "fontSize": 13.8, "color": "black"},
 "encoding": {
  "x": {"datum": 0.06235, "type": "quantitative", "scale": {"domain": [0, 0.0893], "nice": false, "zero": false}, "axis": {"title": "Δz", "titlePadding": 6, "labelPadding": 10.5, "labelOverlap": false, "labelFlush": false, "zindex": 1, "tickSize": -10, "values": [0,0.005,0.01,0.015,0.02,0.025,0.03,0.035,0.04,0.045,0.05,0.055,0.06,0.065,0.07,0.075,0.08,0.085], "labelExpr": "abs(datum.value*50-round(datum.value*50))<1e-6 ? replace(format(datum.value,'~g'),'\u2212','-') : ''", "tickOpacity": {"condition": {"test": "abs(datum.value*50-round(datum.value*50))<1e-6", "value": 1}, "value": 0}, "grid": true, "gridDash": [5, 2000], "gridColor": "black", "gridWidth": 2.5, "gridOpacity": 1}},
  "y": {"datum": 0.01843, "type": "quantitative", "scale": {"domain": [-0.00976, 0.04388], "nice": false, "zero": false}, "axis": {"title": "ξ∥", "titlePadding": 2, "labelPadding": 18, "labelOverlap": false, "labelFlush": false, "zindex": 1, "tickSize": -12, "values": [-0.008,-0.006,-0.004,-0.002,0,0.002,0.004,0.006,0.008,0.01,0.012,0.014,0.016,0.018,0.02,0.022,0.024,0.026,0.028,0.03,0.032,0.034,0.036,0.038,0.04,0.042], "labelExpr": "abs(datum.value*100-round(datum.value*100))<1e-6 ? replace(format(datum.value,'~g'),'\u2212','-') : ''", "tickOpacity": {"condition": {"test": "abs(datum.value*100-round(datum.value*100))<1e-6", "value": 1}, "value": 0}, "grid": true, "gridDash": [6, 2000], "gridColor": "black", "gridWidth": 2.5, "gridOpacity": 1}}}},
{"data": {"values": [{}]}, "mark": {"type": "rule", "color": "black", "strokeWidth": 3},
 "encoding": {
  "x": {"datum": 0.05365, "type": "quantitative", "scale": {"domain": [0, 0.0893], "nice": false, "zero": false}, "axis": {"title": "Δz", "titlePadding": 6, "labelPadding": 10.5, "labelOverlap": false, "labelFlush": false, "zindex": 1, "tickSize": -10, "values": [0,0.005,0.01,0.015,0.02,0.025,0.03,0.035,0.04,0.045,0.05,0.055,0.06,0.065,0.07,0.075,0.08,0.085], "labelExpr": "abs(datum.value*50-round(datum.value*50))<1e-6 ? replace(format(datum.value,'~g'),'\u2212','-') : ''", "tickOpacity": {"condition": {"test": "abs(datum.value*50-round(datum.value*50))<1e-6", "value": 1}, "value": 0}, "grid": true, "gridDash": [5, 2000], "gridColor": "black", "gridWidth": 2.5, "gridOpacity": 1}},
  "x2": {"datum": 0.06057},
  "y": {"datum": 0.01315, "type": "quantitative", "scale": {"domain": [-0.00976, 0.04388], "nice": false, "zero": false}, "axis": {"title": "ξ∥", "titlePadding": 2, "labelPadding": 18, "labelOverlap": false, "labelFlush": false, "zindex": 1, "tickSize": -12, "values": [-0.008,-0.006,-0.004,-0.002,0,0.002,0.004,0.006,0.008,0.01,0.012,0.014,0.016,0.018,0.02,0.022,0.024,0.026,0.028,0.03,0.032,0.034,0.036,0.038,0.04,0.042], "labelExpr": "abs(datum.value*100-round(datum.value*100))<1e-6 ? replace(format(datum.value,'~g'),'\u2212','-') : ''", "tickOpacity": {"condition": {"test": "abs(datum.value*100-round(datum.value*100))<1e-6", "value": 1}, "value": 0}, "grid": true, "gridDash": [6, 2000], "gridColor": "black", "gridWidth": 2.5, "gridOpacity": 1}}}},
{"data": {"values": [{}]}, "mark": {"type": "rect", "fill": "white", "stroke": "black", "strokeWidth": 3},
 "encoding": {
  "x": {"datum": 0.02678, "type": "quantitative", "scale": {"domain": [0, 0.0893], "nice": false, "zero": false}, "axis": {"title": "Δz", "titlePadding": 6, "labelPadding": 10.5, "labelOverlap": false, "labelFlush": false, "zindex": 1, "tickSize": -10, "values": [0,0.005,0.01,0.015,0.02,0.025,0.03,0.035,0.04,0.045,0.05,0.055,0.06,0.065,0.07,0.075,0.08,0.085], "labelExpr": "abs(datum.value*50-round(datum.value*50))<1e-6 ? replace(format(datum.value,'~g'),'\u2212','-') : ''", "tickOpacity": {"condition": {"test": "abs(datum.value*50-round(datum.value*50))<1e-6", "value": 1}, "value": 0}, "grid": true, "gridDash": [5, 2000], "gridColor": "black", "gridWidth": 2.5, "gridOpacity": 1}},
  "x2": {"datum": 0.0893},
  "y": {"datum": 0.04388, "type": "quantitative", "scale": {"domain": [-0.00976, 0.04388], "nice": false, "zero": false}, "axis": {"title": "ξ∥", "titlePadding": 2, "labelPadding": 18, "labelOverlap": false, "labelFlush": false, "zindex": 1, "tickSize": -12, "values": [-0.008,-0.006,-0.004,-0.002,0,0.002,0.004,0.006,0.008,0.01,0.012,0.014,0.016,0.018,0.02,0.022,0.024,0.026,0.028,0.03,0.032,0.034,0.036,0.038,0.04,0.042], "labelExpr": "abs(datum.value*100-round(datum.value*100))<1e-6 ? replace(format(datum.value,'~g'),'\u2212','-') : ''", "tickOpacity": {"condition": {"test": "abs(datum.value*100-round(datum.value*100))<1e-6", "value": 1}, "value": 0}, "grid": true, "gridDash": [6, 2000], "gridColor": "black", "gridWidth": 2.5, "gridOpacity": 1}},
  "y2": {"datum": 0.02185}}},
{"data": {"values": [{}]}, "mark": {"type": "text", "text": ["χ² / ndf = 11.11 / 16", "Prob = 0.8028", "F = 0.0030 ± 0.00077"], "lineHeight": 31.8, "align": "left", "baseline": "alphabetic", "font": "Liberation Sans", "fontWeight": "bold", "fontSize": 23.5, "color": "black"},
 "encoding": {
  "x": {"datum": 0.02987, "type": "quantitative", "scale": {"domain": [0, 0.0893], "nice": false, "zero": false}, "axis": {"title": "Δz", "titlePadding": 6, "labelPadding": 10.5, "labelOverlap": false, "labelFlush": false, "zindex": 1, "tickSize": -10, "values": [0,0.005,0.01,0.015,0.02,0.025,0.03,0.035,0.04,0.045,0.05,0.055,0.06,0.065,0.07,0.075,0.08,0.085], "labelExpr": "abs(datum.value*50-round(datum.value*50))<1e-6 ? replace(format(datum.value,'~g'),'\u2212','-') : ''", "tickOpacity": {"condition": {"test": "abs(datum.value*50-round(datum.value*50))<1e-6", "value": 1}, "value": 0}, "grid": true, "gridDash": [5, 2000], "gridColor": "black", "gridWidth": 2.5, "gridOpacity": 1}},
  "y": {"datum": 0.03993, "type": "quantitative", "scale": {"domain": [-0.00976, 0.04388], "nice": false, "zero": false}, "axis": {"title": "ξ∥", "titlePadding": 2, "labelPadding": 18, "labelOverlap": false, "labelFlush": false, "zindex": 1, "tickSize": -12, "values": [-0.008,-0.006,-0.004,-0.002,0,0.002,0.004,0.006,0.008,0.01,0.012,0.014,0.016,0.018,0.02,0.022,0.024,0.026,0.028,0.03,0.032,0.034,0.036,0.038,0.04,0.042], "labelExpr": "abs(datum.value*100-round(datum.value*100))<1e-6 ? replace(format(datum.value,'~g'),'\u2212','-') : ''", "tickOpacity": {"condition": {"test": "abs(datum.value*100-round(datum.value*100))<1e-6", "value": 1}, "value": 0}, "grid": true, "gridDash": [6, 2000], "gridColor": "black", "gridWidth": 2.5, "gridOpacity": 1}}}},
{"data": {"values": [{}]}, "mark": {"type": "text", "text": "Δz", "align": "left", "baseline": "alphabetic", "font": "Liberation Sans", "fontWeight": "bold", "fontSize": 23.5, "color": "black"},
 "encoding": {
  "x": {"datum": 0.02987, "type": "quantitative", "scale": {"domain": [0, 0.0893], "nice": false, "zero": false}, "axis": {"title": "Δz", "titlePadding": 6, "labelPadding": 10.5, "labelOverlap": false, "labelFlush": false, "zindex": 1, "tickSize": -10, "values": [0,0.005,0.01,0.015,0.02,0.025,0.03,0.035,0.04,0.045,0.05,0.055,0.06,0.065,0.07,0.075,0.08,0.085], "labelExpr": "abs(datum.value*50-round(datum.value*50))<1e-6 ? replace(format(datum.value,'~g'),'\u2212','-') : ''", "tickOpacity": {"condition": {"test": "abs(datum.value*50-round(datum.value*50))<1e-6", "value": 1}, "value": 0}, "grid": true, "gridDash": [5, 2000], "gridColor": "black", "gridWidth": 2.5, "gridOpacity": 1}},
  "y": {"datum": 0.02372, "type": "quantitative", "scale": {"domain": [-0.00976, 0.04388], "nice": false, "zero": false}, "axis": {"title": "ξ∥", "titlePadding": 2, "labelPadding": 18, "labelOverlap": false, "labelFlush": false, "zindex": 1, "tickSize": -12, "values": [-0.008,-0.006,-0.004,-0.002,0,0.002,0.004,0.006,0.008,0.01,0.012,0.014,0.016,0.018,0.02,0.022,0.024,0.026,0.028,0.03,0.032,0.034,0.036,0.038,0.04,0.042], "labelExpr": "abs(datum.value*100-round(datum.value*100))<1e-6 ? replace(format(datum.value,'~g'),'\u2212','-') : ''", "tickOpacity": {"condition": {"test": "abs(datum.value*100-round(datum.value*100))<1e-6", "value": 1}, "value": 0}, "grid": true, "gridDash": [6, 2000], "gridColor": "black", "gridWidth": 2.5, "gridOpacity": 1}}}},
{"data": {"values": [{}]}, "mark": {"type": "text", "text": "BAO", "dx": 28, "dy": 6, "align": "left", "baseline": "alphabetic", "font": "Liberation Sans", "fontWeight": "bold", "fontSize": 16, "color": "black"},
 "encoding": {
  "x": {"datum": 0.02987, "type": "quantitative", "scale": {"domain": [0, 0.0893], "nice": false, "zero": false}, "axis": {"title": "Δz", "titlePadding": 6, "labelPadding": 10.5, "labelOverlap": false, "labelFlush": false, "zindex": 1, "tickSize": -10, "values": [0,0.005,0.01,0.015,0.02,0.025,0.03,0.035,0.04,0.045,0.05,0.055,0.06,0.065,0.07,0.075,0.08,0.085], "labelExpr": "abs(datum.value*50-round(datum.value*50))<1e-6 ? replace(format(datum.value,'~g'),'\u2212','-') : ''", "tickOpacity": {"condition": {"test": "abs(datum.value*50-round(datum.value*50))<1e-6", "value": 1}, "value": 0}, "grid": true, "gridDash": [5, 2000], "gridColor": "black", "gridWidth": 2.5, "gridOpacity": 1}},
  "y": {"datum": 0.02372, "type": "quantitative", "scale": {"domain": [-0.00976, 0.04388], "nice": false, "zero": false}, "axis": {"title": "ξ∥", "titlePadding": 2, "labelPadding": 18, "labelOverlap": false, "labelFlush": false, "zindex": 1, "tickSize": -12, "values": [-0.008,-0.006,-0.004,-0.002,0,0.002,0.004,0.006,0.008,0.01,0.012,0.014,0.016,0.018,0.02,0.022,0.024,0.026,0.028,0.03,0.032,0.034,0.036,0.038,0.04,0.042], "labelExpr": "abs(datum.value*100-round(datum.value*100))<1e-6 ? replace(format(datum.value,'~g'),'\u2212','-') : ''", "tickOpacity": {"condition": {"test": "abs(datum.value*100-round(datum.value*100))<1e-6", "value": 1}, "value": 0}, "grid": true, "gridDash": [6, 2000], "gridColor": "black", "gridWidth": 2.5, "gridOpacity": 1}}}},
{"data": {"values": [{}]}, "mark": {"type": "text", "text": "= 0.0567 ± 0.0011", "dx": 69, "align": "left", "baseline": "alphabetic", "font": "Liberation Sans", "fontWeight": "bold", "fontSize": 23.5, "color": "black"},
 "encoding": {
  "x": {"datum": 0.02987, "type": "quantitative", "scale": {"domain": [0, 0.0893], "nice": false, "zero": false}, "axis": {"title": "Δz", "titlePadding": 6, "labelPadding": 10.5, "labelOverlap": false, "labelFlush": false, "zindex": 1, "tickSize": -10, "values": [0,0.005,0.01,0.015,0.02,0.025,0.03,0.035,0.04,0.045,0.05,0.055,0.06,0.065,0.07,0.075,0.08,0.085], "labelExpr": "abs(datum.value*50-round(datum.value*50))<1e-6 ? replace(format(datum.value,'~g'),'\u2212','-') : ''", "tickOpacity": {"condition": {"test": "abs(datum.value*50-round(datum.value*50))<1e-6", "value": 1}, "value": 0}, "grid": true, "gridDash": [5, 2000], "gridColor": "black", "gridWidth": 2.5, "gridOpacity": 1}},
  "y": {"datum": 0.02372, "type": "quantitative", "scale": {"domain": [-0.00976, 0.04388], "nice": false, "zero": false}, "axis": {"title": "ξ∥", "titlePadding": 2, "labelPadding": 18, "labelOverlap": false, "labelFlush": false, "zindex": 1, "tickSize": -12, "values": [-0.008,-0.006,-0.004,-0.002,0,0.002,0.004,0.006,0.008,0.01,0.012,0.014,0.016,0.018,0.02,0.022,0.024,0.026,0.028,0.03,0.032,0.034,0.036,0.038,0.04,0.042], "labelExpr": "abs(datum.value*100-round(datum.value*100))<1e-6 ? replace(format(datum.value,'~g'),'\u2212','-') : ''", "tickOpacity": {"condition": {"test": "abs(datum.value*100-round(datum.value*100))<1e-6", "value": 1}, "value": 0}, "grid": true, "gridDash": [6, 2000], "gridColor": "black", "gridWidth": 2.5, "gridOpacity": 1}}}}
]
},
{
"width": 418, "height": 304,
"title": {"text": "1.05 < z < 1.2", "orient": "bottom", "anchor": "middle", "frame": "bounds", "font": "DejaVu Serif", "fontSize": 22.5, "fontWeight": "normal", "color": "black", "offset": 26.5},
"layer": [
{"data": {"name": "d4"}, "mark": {"type": "errorbar", "ticks": false, "rule": {"stroke": "black", "strokeWidth": 2.3}},
 "encoding": {
  "x": {"field": "x", "type": "quantitative", "scale": {"domain": [0, 0.1243], "nice": false, "zero": false}, "axis": {"title": "Δz", "titlePadding": 6, "labelPadding": 10.5, "labelOverlap": false, "labelFlush": false, "zindex": 1, "tickSize": -10, "values": [0,0.005,0.01,0.015,0.02,0.025,0.03,0.035,0.04,0.045,0.05,0.055,0.06,0.065,0.07,0.075,0.08,0.085,0.09,0.095,0.1,0.105,0.11,0.115,0.12], "labelExpr": "abs(datum.value*50-round(datum.value*50))<1e-6 ? replace(format(datum.value,'~g'),'\u2212','-') : ''", "tickOpacity": {"condition": {"test": "abs(datum.value*50-round(datum.value*50))<1e-6", "value": 1}, "value": 0}, "grid": true, "gridDash": [5, 2000], "gridColor": "black", "gridWidth": 2.5, "gridOpacity": 1}},
  "y": {"field": "y", "type": "quantitative", "scale": {"domain": [-0.0159, 0.0479], "nice": false, "zero": false, "clamp": true}, "axis": {"title": "ξ∥", "titlePadding": 2, "labelPadding": 18, "labelOverlap": false, "labelFlush": false, "zindex": 1, "tickSize": -12, "values": [-0.014,-0.012,-0.01,-0.008,-0.006,-0.004,-0.002,0,0.002,0.004,0.006,0.008,0.01,0.012,0.014,0.016,0.018,0.02,0.022,0.024,0.026,0.028,0.03,0.032,0.034,0.036,0.038,0.04,0.042,0.044,0.046], "labelExpr": "abs(datum.value*100-round(datum.value*100))<1e-6 ? replace(format(datum.value,'~g'),'\u2212','-') : ''", "tickOpacity": {"condition": {"test": "abs(datum.value*100-round(datum.value*100))<1e-6", "value": 1}, "value": 0}, "grid": true, "gridDash": [6, 2000], "gridColor": "black", "gridWidth": 2.5, "gridOpacity": 1}},
  "yError": {"field": "err"}}},
{"data": {"name": "d4"}, "mark": {"type": "point", "filled": true, "fill": "#ff0000", "size": 85, "opacity": 1, "strokeWidth": 0},
 "encoding": {
  "x": {"field": "x", "type": "quantitative", "scale": {"domain": [0, 0.1243], "nice": false, "zero": false}, "axis": {"title": "Δz", "titlePadding": 6, "labelPadding": 10.5, "labelOverlap": false, "labelFlush": false, "zindex": 1, "tickSize": -10, "values": [0,0.005,0.01,0.015,0.02,0.025,0.03,0.035,0.04,0.045,0.05,0.055,0.06,0.065,0.07,0.075,0.08,0.085,0.09,0.095,0.1,0.105,0.11,0.115,0.12], "labelExpr": "abs(datum.value*50-round(datum.value*50))<1e-6 ? replace(format(datum.value,'~g'),'\u2212','-') : ''", "tickOpacity": {"condition": {"test": "abs(datum.value*50-round(datum.value*50))<1e-6", "value": 1}, "value": 0}, "grid": true, "gridDash": [5, 2000], "gridColor": "black", "gridWidth": 2.5, "gridOpacity": 1}},
  "y": {"field": "y", "type": "quantitative", "scale": {"domain": [-0.0159, 0.0479], "nice": false, "zero": false, "clamp": true}, "axis": {"title": "ξ∥", "titlePadding": 2, "labelPadding": 18, "labelOverlap": false, "labelFlush": false, "zindex": 1, "tickSize": -12, "values": [-0.014,-0.012,-0.01,-0.008,-0.006,-0.004,-0.002,0,0.002,0.004,0.006,0.008,0.01,0.012,0.014,0.016,0.018,0.02,0.022,0.024,0.026,0.028,0.03,0.032,0.034,0.036,0.038,0.04,0.042,0.044,0.046], "labelExpr": "abs(datum.value*100-round(datum.value*100))<1e-6 ? replace(format(datum.value,'~g'),'\u2212','-') : ''", "tickOpacity": {"condition": {"test": "abs(datum.value*100-round(datum.value*100))<1e-6", "value": 1}, "value": 0}, "grid": true, "gridDash": [6, 2000], "gridColor": "black", "gridWidth": 2.5, "gridOpacity": 1}}}},
{"data": {"name": "f4"}, "mark": {"type": "line", "color": "black", "strokeWidth": 3, "interpolate": "monotone"},
 "encoding": {
  "x": {"field": "x", "type": "quantitative", "scale": {"domain": [0, 0.1243], "nice": false, "zero": false}, "axis": {"title": "Δz", "titlePadding": 6, "labelPadding": 10.5, "labelOverlap": false, "labelFlush": false, "zindex": 1, "tickSize": -10, "values": [0,0.005,0.01,0.015,0.02,0.025,0.03,0.035,0.04,0.045,0.05,0.055,0.06,0.065,0.07,0.075,0.08,0.085,0.09,0.095,0.1,0.105,0.11,0.115,0.12], "labelExpr": "abs(datum.value*50-round(datum.value*50))<1e-6 ? replace(format(datum.value,'~g'),'\u2212','-') : ''", "tickOpacity": {"condition": {"test": "abs(datum.value*50-round(datum.value*50))<1e-6", "value": 1}, "value": 0}, "grid": true, "gridDash": [5, 2000], "gridColor": "black", "gridWidth": 2.5, "gridOpacity": 1}},
  "y": {"field": "y", "type": "quantitative", "scale": {"domain": [-0.0159, 0.0479], "nice": false, "zero": false, "clamp": true}, "axis": {"title": "ξ∥", "titlePadding": 2, "labelPadding": 18, "labelOverlap": false, "labelFlush": false, "zindex": 1, "tickSize": -12, "values": [-0.014,-0.012,-0.01,-0.008,-0.006,-0.004,-0.002,0,0.002,0.004,0.006,0.008,0.01,0.012,0.014,0.016,0.018,0.02,0.022,0.024,0.026,0.028,0.03,0.032,0.034,0.036,0.038,0.04,0.042,0.044,0.046], "labelExpr": "abs(datum.value*100-round(datum.value*100))<1e-6 ? replace(format(datum.value,'~g'),'\u2212','-') : ''", "tickOpacity": {"condition": {"test": "abs(datum.value*100-round(datum.value*100))<1e-6", "value": 1}, "value": 0}, "grid": true, "gridDash": [6, 2000], "gridColor": "black", "gridWidth": 2.5, "gridOpacity": 1}}}},
{"data": {"values": [{}]}, "mark": {"type": "point", "filled": true, "fill": "#ff0000", "size": 85, "opacity": 1, "strokeWidth": 0},
 "encoding": {
  "x": {"datum": 0.07377, "type": "quantitative", "scale": {"domain": [0, 0.1243], "nice": false, "zero": false}, "axis": {"title": "Δz", "titlePadding": 6, "labelPadding": 10.5, "labelOverlap": false, "labelFlush": false, "zindex": 1, "tickSize": -10, "values": [0,0.005,0.01,0.015,0.02,0.025,0.03,0.035,0.04,0.045,0.05,0.055,0.06,0.065,0.07,0.075,0.08,0.085,0.09,0.095,0.1,0.105,0.11,0.115,0.12], "labelExpr": "abs(datum.value*50-round(datum.value*50))<1e-6 ? replace(format(datum.value,'~g'),'\u2212','-') : ''", "tickOpacity": {"condition": {"test": "abs(datum.value*50-round(datum.value*50))<1e-6", "value": 1}, "value": 0}, "grid": true, "gridDash": [5, 2000], "gridColor": "black", "gridWidth": 2.5, "gridOpacity": 1}},
  "y": {"datum": 0.01903, "type": "quantitative", "scale": {"domain": [-0.0159, 0.0479], "nice": false, "zero": false, "clamp": true}, "axis": {"title": "ξ∥", "titlePadding": 2, "labelPadding": 18, "labelOverlap": false, "labelFlush": false, "zindex": 1, "tickSize": -12, "values": [-0.014,-0.012,-0.01,-0.008,-0.006,-0.004,-0.002,0,0.002,0.004,0.006,0.008,0.01,0.012,0.014,0.016,0.018,0.02,0.022,0.024,0.026,0.028,0.03,0.032,0.034,0.036,0.038,0.04,0.042,0.044,0.046], "labelExpr": "abs(datum.value*100-round(datum.value*100))<1e-6 ? replace(format(datum.value,'~g'),'\u2212','-') : ''", "tickOpacity": {"condition": {"test": "abs(datum.value*100-round(datum.value*100))<1e-6", "value": 1}, "value": 0}, "grid": true, "gridDash": [6, 2000], "gridColor": "black", "gridWidth": 2.5, "gridOpacity": 1}}}},
{"data": {"values": [{}]}, "mark": {"type": "text", "text": ["z > 1.10", "Parametrization"], "lineHeight": 34.7, "align": "left", "baseline": "middle", "font": "Liberation Sans", "fontWeight": "bold", "fontSize": 15, "color": "black"},
 "encoding": {
  "x": {"datum": 0.08168, "type": "quantitative", "scale": {"domain": [0, 0.1243], "nice": false, "zero": false}, "axis": {"title": "Δz", "titlePadding": 6, "labelPadding": 10.5, "labelOverlap": false, "labelFlush": false, "zindex": 1, "tickSize": -10, "values": [0,0.005,0.01,0.015,0.02,0.025,0.03,0.035,0.04,0.045,0.05,0.055,0.06,0.065,0.07,0.075,0.08,0.085,0.09,0.095,0.1,0.105,0.11,0.115,0.12], "labelExpr": "abs(datum.value*50-round(datum.value*50))<1e-6 ? replace(format(datum.value,'~g'),'\u2212','-') : ''", "tickOpacity": {"condition": {"test": "abs(datum.value*50-round(datum.value*50))<1e-6", "value": 1}, "value": 0}, "grid": true, "gridDash": [5, 2000], "gridColor": "black", "gridWidth": 2.5, "gridOpacity": 1}},
  "y": {"datum": 0.01903, "type": "quantitative", "scale": {"domain": [-0.0159, 0.0479], "nice": false, "zero": false, "clamp": true}, "axis": {"title": "ξ∥", "titlePadding": 2, "labelPadding": 18, "labelOverlap": false, "labelFlush": false, "zindex": 1, "tickSize": -12, "values": [-0.014,-0.012,-0.01,-0.008,-0.006,-0.004,-0.002,0,0.002,0.004,0.006,0.008,0.01,0.012,0.014,0.016,0.018,0.02,0.022,0.024,0.026,0.028,0.03,0.032,0.034,0.036,0.038,0.04,0.042,0.044,0.046], "labelExpr": "abs(datum.value*100-round(datum.value*100))<1e-6 ? replace(format(datum.value,'~g'),'\u2212','-') : ''", "tickOpacity": {"condition": {"test": "abs(datum.value*100-round(datum.value*100))<1e-6", "value": 1}, "value": 0}, "grid": true, "gridDash": [6, 2000], "gridColor": "black", "gridWidth": 2.5, "gridOpacity": 1}}}},
{"data": {"values": [{}]}, "mark": {"type": "rule", "color": "black", "strokeWidth": 3},
 "encoding": {
  "x": {"datum": 0.06831, "type": "quantitative", "scale": {"domain": [0, 0.1243], "nice": false, "zero": false}, "axis": {"title": "Δz", "titlePadding": 6, "labelPadding": 10.5, "labelOverlap": false, "labelFlush": false, "zindex": 1, "tickSize": -10, "values": [0,0.005,0.01,0.015,0.02,0.025,0.03,0.035,0.04,0.045,0.05,0.055,0.06,0.065,0.07,0.075,0.08,0.085,0.09,0.095,0.1,0.105,0.11,0.115,0.12], "labelExpr": "abs(datum.value*50-round(datum.value*50))<1e-6 ? replace(format(datum.value,'~g'),'\u2212','-') : ''", "tickOpacity": {"condition": {"test": "abs(datum.value*50-round(datum.value*50))<1e-6", "value": 1}, "value": 0}, "grid": true, "gridDash": [5, 2000], "gridColor": "black", "gridWidth": 2.5, "gridOpacity": 1}},
  "x2": {"datum": 0.07921},
  "y": {"datum": 0.01175, "type": "quantitative", "scale": {"domain": [-0.0159, 0.0479], "nice": false, "zero": false, "clamp": true}, "axis": {"title": "ξ∥", "titlePadding": 2, "labelPadding": 18, "labelOverlap": false, "labelFlush": false, "zindex": 1, "tickSize": -12, "values": [-0.014,-0.012,-0.01,-0.008,-0.006,-0.004,-0.002,0,0.002,0.004,0.006,0.008,0.01,0.012,0.014,0.016,0.018,0.02,0.022,0.024,0.026,0.028,0.03,0.032,0.034,0.036,0.038,0.04,0.042,0.044,0.046], "labelExpr": "abs(datum.value*100-round(datum.value*100))<1e-6 ? replace(format(datum.value,'~g'),'\u2212','-') : ''", "tickOpacity": {"condition": {"test": "abs(datum.value*100-round(datum.value*100))<1e-6", "value": 1}, "value": 0}, "grid": true, "gridDash": [6, 2000], "gridColor": "black", "gridWidth": 2.5, "gridOpacity": 1}}}},
{"data": {"values": [{}]}, "mark": {"type": "rect", "fill": "white", "stroke": "black", "strokeWidth": 3},
 "encoding": {
  "x": {"datum": 0.03713, "type": "quantitative", "scale": {"domain": [0, 0.1243], "nice": false, "zero": false}, "axis": {"title": "Δz", "titlePadding": 6, "labelPadding": 10.5, "labelOverlap": false, "labelFlush": false, "zindex": 1, "tickSize": -10, "values": [0,0.005,0.01,0.015,0.02,0.025,0.03,0.035,0.04,0.045,0.05,0.055,0.06,0.065,0.07,0.075,0.08,0.085,0.09,0.095,0.1,0.105,0.11,0.115,0.12], "labelExpr": "abs(datum.value*50-round(datum.value*50))<1e-6 ? replace(format(datum.value,'~g'),'\u2212','-') : ''", "tickOpacity": {"condition": {"test": "abs(datum.value*50-round(datum.value*50))<1e-6", "value": 1}, "value": 0}, "grid": true, "gridDash": [5, 2000], "gridColor": "black", "gridWidth": 2.5, "gridOpacity": 1}},
  "x2": {"datum": 0.1243},
  "y": {"datum": 0.0479, "type": "quantitative", "scale": {"domain": [-0.0159, 0.0479], "nice": false, "zero": false, "clamp": true}, "axis": {"title": "ξ∥", "titlePadding": 2, "labelPadding": 18, "labelOverlap": false, "labelFlush": false, "zindex": 1, "tickSize": -12, "values": [-0.014,-0.012,-0.01,-0.008,-0.006,-0.004,-0.002,0,0.002,0.004,0.006,0.008,0.01,0.012,0.014,0.016,0.018,0.02,0.022,0.024,0.026,0.028,0.03,0.032,0.034,0.036,0.038,0.04,0.042,0.044,0.046], "labelExpr": "abs(datum.value*100-round(datum.value*100))<1e-6 ? replace(format(datum.value,'~g'),'\u2212','-') : ''", "tickOpacity": {"condition": {"test": "abs(datum.value*100-round(datum.value*100))<1e-6", "value": 1}, "value": 0}, "grid": true, "gridDash": [6, 2000], "gridColor": "black", "gridWidth": 2.5, "gridOpacity": 1}},
  "y2": {"datum": 0.02169}}},
{"data": {"values": [{}]}, "mark": {"type": "text", "text": ["χ² / ndf = 30.72 / 25", "Prob = 0.1984", "F = 0.0044 ± 0.0018"], "lineHeight": 31.8, "align": "left", "baseline": "alphabetic", "font": "Liberation Sans", "fontWeight": "bold", "fontSize": 23.5, "color": "black"},
 "encoding": {
  "x": {"datum": 0.0414, "type": "quantitative", "scale": {"domain": [0, 0.1243], "nice": false, "zero": false}, "axis": {"title": "Δz", "titlePadding": 6, "labelPadding": 10.5, "labelOverlap": false, "labelFlush": false, "zindex": 1, "tickSize": -10, "values": [0,0.005,0.01,0.015,0.02,0.025,0.03,0.035,0.04,0.045,0.05,0.055,0.06,0.065,0.07,0.075,0.08,0.085,0.09,0.095,0.1,0.105,0.11,0.115,0.12], "labelExpr": "abs(datum.value*50-round(datum.value*50))<1e-6 ? replace(format(datum.value,'~g'),'\u2212','-') : ''", "tickOpacity": {"condition": {"test": "abs(datum.value*50-round(datum.value*50))<1e-6", "value": 1}, "value": 0}, "grid": true, "gridDash": [5, 2000], "gridColor": "black", "gridWidth": 2.5, "gridOpacity": 1}},
  "y": {"datum": 0.04321, "type": "quantitative", "scale": {"domain": [-0.0159, 0.0479], "nice": false, "zero": false, "clamp": true}, "axis": {"title": "ξ∥", "titlePadding": 2, "labelPadding": 18, "labelOverlap": false, "labelFlush": false, "zindex": 1, "tickSize": -12, "values": [-0.014,-0.012,-0.01,-0.008,-0.006,-0.004,-0.002,0,0.002,0.004,0.006,0.008,0.01,0.012,0.014,0.016,0.018,0.02,0.022,0.024,0.026,0.028,0.03,0.032,0.034,0.036,0.038,0.04,0.042,0.044,0.046], "labelExpr": "abs(datum.value*100-round(datum.value*100))<1e-6 ? replace(format(datum.value,'~g'),'\u2212','-') : ''", "tickOpacity": {"condition": {"test": "abs(datum.value*100-round(datum.value*100))<1e-6", "value": 1}, "value": 0}, "grid": true, "gridDash": [6, 2000], "gridColor": "black", "gridWidth": 2.5, "gridOpacity": 1}}}},
{"data": {"values": [{}]}, "mark": {"type": "text", "text": "Δz", "align": "left", "baseline": "alphabetic", "font": "Liberation Sans", "fontWeight": "bold", "fontSize": 23.5, "color": "black"},
 "encoding": {
  "x": {"datum": 0.0414, "type": "quantitative", "scale": {"domain": [0, 0.1243], "nice": false, "zero": false}, "axis": {"title": "Δz", "titlePadding": 6, "labelPadding": 10.5, "labelOverlap": false, "labelFlush": false, "zindex": 1, "tickSize": -10, "values": [0,0.005,0.01,0.015,0.02,0.025,0.03,0.035,0.04,0.045,0.05,0.055,0.06,0.065,0.07,0.075,0.08,0.085,0.09,0.095,0.1,0.105,0.11,0.115,0.12], "labelExpr": "abs(datum.value*50-round(datum.value*50))<1e-6 ? replace(format(datum.value,'~g'),'\u2212','-') : ''", "tickOpacity": {"condition": {"test": "abs(datum.value*50-round(datum.value*50))<1e-6", "value": 1}, "value": 0}, "grid": true, "gridDash": [5, 2000], "gridColor": "black", "gridWidth": 2.5, "gridOpacity": 1}},
  "y": {"datum": 0.02391, "type": "quantitative", "scale": {"domain": [-0.0159, 0.0479], "nice": false, "zero": false, "clamp": true}, "axis": {"title": "ξ∥", "titlePadding": 2, "labelPadding": 18, "labelOverlap": false, "labelFlush": false, "zindex": 1, "tickSize": -12, "values": [-0.014,-0.012,-0.01,-0.008,-0.006,-0.004,-0.002,0,0.002,0.004,0.006,0.008,0.01,0.012,0.014,0.016,0.018,0.02,0.022,0.024,0.026,0.028,0.03,0.032,0.034,0.036,0.038,0.04,0.042,0.044,0.046], "labelExpr": "abs(datum.value*100-round(datum.value*100))<1e-6 ? replace(format(datum.value,'~g'),'\u2212','-') : ''", "tickOpacity": {"condition": {"test": "abs(datum.value*100-round(datum.value*100))<1e-6", "value": 1}, "value": 0}, "grid": true, "gridDash": [6, 2000], "gridColor": "black", "gridWidth": 2.5, "gridOpacity": 1}}}},
{"data": {"values": [{}]}, "mark": {"type": "text", "text": "BAO", "dx": 28, "dy": 6, "align": "left", "baseline": "alphabetic", "font": "Liberation Sans", "fontWeight": "bold", "fontSize": 16, "color": "black"},
 "encoding": {
  "x": {"datum": 0.0414, "type": "quantitative", "scale": {"domain": [0, 0.1243], "nice": false, "zero": false}, "axis": {"title": "Δz", "titlePadding": 6, "labelPadding": 10.5, "labelOverlap": false, "labelFlush": false, "zindex": 1, "tickSize": -10, "values": [0,0.005,0.01,0.015,0.02,0.025,0.03,0.035,0.04,0.045,0.05,0.055,0.06,0.065,0.07,0.075,0.08,0.085,0.09,0.095,0.1,0.105,0.11,0.115,0.12], "labelExpr": "abs(datum.value*50-round(datum.value*50))<1e-6 ? replace(format(datum.value,'~g'),'\u2212','-') : ''", "tickOpacity": {"condition": {"test": "abs(datum.value*50-round(datum.value*50))<1e-6", "value": 1}, "value": 0}, "grid": true, "gridDash": [5, 2000], "gridColor": "black", "gridWidth": 2.5, "gridOpacity": 1}},
  "y": {"datum": 0.02391, "type": "quantitative", "scale": {"domain": [-0.0159, 0.0479], "nice": false, "zero": false, "clamp": true}, "axis": {"title": "ξ∥", "titlePadding": 2, "labelPadding": 18, "labelOverlap": false, "labelFlush": false, "zindex": 1, "tickSize": -12, "values": [-0.014,-0.012,-0.01,-0.008,-0.006,-0.004,-0.002,0,0.002,0.004,0.006,0.008,0.01,0.012,0.014,0.016,0.018,0.02,0.022,0.024,0.026,0.028,0.03,0.032,0.034,0.036,0.038,0.04,0.042,0.044,0.046], "labelExpr": "abs(datum.value*100-round(datum.value*100))<1e-6 ? replace(format(datum.value,'~g'),'\u2212','-') : ''", "tickOpacity": {"condition": {"test": "abs(datum.value*100-round(datum.value*100))<1e-6", "value": 1}, "value": 0}, "grid": true, "gridDash": [6, 2000], "gridColor": "black", "gridWidth": 2.5, "gridOpacity": 1}}}},
{"data": {"values": [{}]}, "mark": {"type": "text", "text": "= 0.0716 ± 0.0047", "dx": 69, "align": "left", "baseline": "alphabetic", "font": "Liberation Sans", "fontWeight": "bold", "fontSize": 23.5, "color": "black"},
 "encoding": {
  "x": {"datum": 0.0414, "type": "quantitative", "scale": {"domain": [0, 0.1243], "nice": false, "zero": false}, "axis": {"title": "Δz", "titlePadding": 6, "labelPadding": 10.5, "labelOverlap": false, "labelFlush": false, "zindex": 1, "tickSize": -10, "values": [0,0.005,0.01,0.015,0.02,0.025,0.03,0.035,0.04,0.045,0.05,0.055,0.06,0.065,0.07,0.075,0.08,0.085,0.09,0.095,0.1,0.105,0.11,0.115,0.12], "labelExpr": "abs(datum.value*50-round(datum.value*50))<1e-6 ? replace(format(datum.value,'~g'),'\u2212','-') : ''", "tickOpacity": {"condition": {"test": "abs(datum.value*50-round(datum.value*50))<1e-6", "value": 1}, "value": 0}, "grid": true, "gridDash": [5, 2000], "gridColor": "black", "gridWidth": 2.5, "gridOpacity": 1}},
  "y": {"datum": 0.02391, "type": "quantitative", "scale": {"domain": [-0.0159, 0.0479], "nice": false, "zero": false, "clamp": true}, "axis": {"title": "ξ∥", "titlePadding": 2, "labelPadding": 18, "labelOverlap": false, "labelFlush": false, "zindex": 1, "tickSize": -12, "values": [-0.014,-0.012,-0.01,-0.008,-0.006,-0.004,-0.002,0,0.002,0.004,0.006,0.008,0.01,0.012,0.014,0.016,0.018,0.02,0.022,0.024,0.026,0.028,0.03,0.032,0.034,0.036,0.038,0.04,0.042,0.044,0.046], "labelExpr": "abs(datum.value*100-round(datum.value*100))<1e-6 ? replace(format(datum.value,'~g'),'\u2212','-') : ''", "tickOpacity": {"condition": {"test": "abs(datum.value*100-round(datum.value*100))<1e-6", "value": 1}, "value": 0}, "grid": true, "gridDash": [6, 2000], "gridColor": "black", "gridWidth": 2.5, "gridOpacity": 1}}}}
]
}
],
"config": {
 "font": "Liberation Sans",
 "view": {"stroke": "black", "strokeWidth": 3, "fill": "transparent"},
 "axis": {"domain": false, "labelFont": "Liberation Sans", "labelFontSize": 17, "labelColor": "black", "labelFlush": false, "labelOverlap": false, "tickColor": "black", "tickWidth": 2.5, "titleFont": "Liberation Sans", "titleFontSize": 19, "titleFontWeight": "normal", "titleColor": "black"}
}
}
